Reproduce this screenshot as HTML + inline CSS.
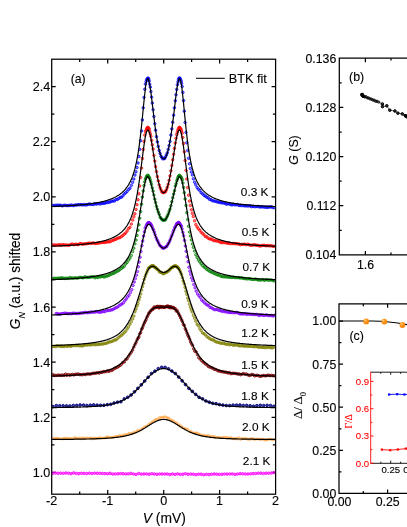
<!DOCTYPE html>
<html><head><meta charset="utf-8"><title>chart</title>
<style>html,body{margin:0;padding:0;background:#fff;overflow:hidden}text{stroke:#000;stroke-width:0.12px}.r text,text.r{stroke:#f00;stroke-width:0.1px}body{width:407px;height:527px;font-family:"Liberation Sans", sans-serif}</style></head>
<body>
<svg width="407" height="527" viewBox="0 0 407 527" font-family='"Liberation Sans", sans-serif' style="display:block;will-change:transform">
<rect width="407" height="527" fill="#fff"/>
<defs>
<marker id="m0" markerWidth="6" markerHeight="6" refX="3" refY="3" markerUnits="userSpaceOnUse"><circle cx="3" cy="3" r="1.25" fill="#0000ff" fill-opacity="0.45" stroke="#0000ff" stroke-width="0.75"/></marker>
<marker id="m1" markerWidth="6" markerHeight="6" refX="3" refY="3" markerUnits="userSpaceOnUse"><circle cx="3" cy="3" r="1.25" fill="#ff0000" fill-opacity="0.45" stroke="#ff0000" stroke-width="0.75"/></marker>
<marker id="m2" markerWidth="6" markerHeight="6" refX="3" refY="3" markerUnits="userSpaceOnUse"><circle cx="3" cy="3" r="1.25" fill="#008000" fill-opacity="0.45" stroke="#008000" stroke-width="0.75"/></marker>
<marker id="m3" markerWidth="6" markerHeight="6" refX="3" refY="3" markerUnits="userSpaceOnUse"><circle cx="3" cy="3" r="1.25" fill="#8000ff" fill-opacity="0.45" stroke="#8000ff" stroke-width="0.75"/></marker>
<marker id="m4" markerWidth="6" markerHeight="6" refX="3" refY="3" markerUnits="userSpaceOnUse"><circle cx="3" cy="3" r="1.25" fill="#808000" fill-opacity="0.45" stroke="#808000" stroke-width="0.75"/></marker>
<marker id="m5" markerWidth="6" markerHeight="6" refX="3" refY="3" markerUnits="userSpaceOnUse"><circle cx="3" cy="3" r="1.25" fill="#800000" fill-opacity="0.45" stroke="#800000" stroke-width="0.75"/></marker>
<marker id="m6" markerWidth="6" markerHeight="6" refX="3" refY="3" markerUnits="userSpaceOnUse"><circle cx="3" cy="3" r="1.35" fill="#000080" fill-opacity="0.75" stroke="#000080" stroke-width="0.9"/></marker>
<marker id="m7" markerWidth="6" markerHeight="6" refX="3" refY="3" markerUnits="userSpaceOnUse"><circle cx="3" cy="3" r="0.9" fill="#ff8a10" fill-opacity="0" stroke="#ff8a10" stroke-width="0.4"/></marker>
<marker id="m8" markerWidth="6" markerHeight="6" refX="3" refY="3" markerUnits="userSpaceOnUse"><circle cx="3" cy="3" r="1.25" fill="#ff00ff" fill-opacity="0.55" stroke="#ff00ff" stroke-width="0.9"/></marker>
<marker id="mb" markerWidth="6" markerHeight="6" refX="3" refY="3" markerUnits="userSpaceOnUse"><circle cx="3" cy="3" r="1.2" fill="#000" fill-opacity="0.25" stroke="#000" stroke-width="0.75"/></marker>
<clipPath id="ca"><rect x="51.7" y="59.2" width="224.5" height="435.0"/></clipPath>
<radialGradient id="og" cx="0.36" cy="0.32" r="0.75"><stop offset="0" stop-color="#ffd9a0"/><stop offset="0.3" stop-color="#ff9a1f"/><stop offset="1" stop-color="#f07c00"/></radialGradient>
</defs>
<path d="M51.7,472.4h4.0 M275.6,472.4h-4.0 M51.7,444.8h2.7 M275.6,444.8h-2.7 M51.7,417.3h4.0 M275.6,417.3h-4.0 M51.7,389.7h2.7 M275.6,389.7h-2.7 M51.7,362.2h4.0 M275.6,362.2h-4.0 M51.7,334.6h2.7 M275.6,334.6h-2.7 M51.7,307.0h4.0 M275.6,307.0h-4.0 M51.7,279.5h2.7 M275.6,279.5h-2.7 M51.7,251.9h4.0 M275.6,251.9h-4.0 M51.7,224.4h2.7 M275.6,224.4h-2.7 M51.7,196.8h4.0 M275.6,196.8h-4.0 M51.7,169.2h2.7 M275.6,169.2h-2.7 M51.7,141.7h4.0 M275.6,141.7h-4.0 M51.7,114.1h2.7 M275.6,114.1h-2.7 M51.7,86.6h4.0 M275.6,86.6h-4.0 M79.7,494.2v-2.7 M79.7,59.2v2.7 M107.7,494.2v-4.2 M107.7,59.2v4.2 M135.7,494.2v-2.7 M135.7,59.2v2.7 M163.7,494.2v-4.2 M163.7,59.2v4.2 M191.6,494.2v-2.7 M191.6,59.2v2.7 M219.6,494.2v-4.2 M219.6,59.2v4.2 M247.6,494.2v-2.7 M247.6,59.2v2.7" stroke="#000" stroke-width="1.25" fill="none"/>
<g clip-path="url(#ca)">
<polyline points="52.9,205.4 54.3,205.5 55.7,205.4 57.1,205.2 58.5,205.3 59.9,205.2 61.3,205.5 62.7,205.8 64.1,205.3 65.5,205.3 66.9,205.6 68.3,205.5 69.7,205.4 71.1,205.1 72.5,205.4 73.9,205.5 75.3,204.9 76.7,205.1 78.1,204.7 79.5,204.8 80.9,204.6 82.3,205 83.7,204.6 85.1,205 86.5,204.8 87.9,204.6 89.3,203.9 90.7,204.4 92.1,204.4 93.5,204.4 94.9,203.8 96.3,204 97.7,203.7 99.1,203.6 100.5,204 101.9,203.3 103.3,203.3 104.7,203.3 106.1,202.6 107.5,202.5 108.9,202.2 110.3,201.9 111.7,201.1 113.1,201.1 114.5,200.9 115.9,199.5 117.3,199.5 118.7,198.5 120.1,197.5 121.5,197.2 122.9,195.8 124.3,193.9 125.7,192.8 127.1,191.4 128.5,189.6 129.9,188.3 131.3,185.4 132.6,182.3 133.8,179 134.9,175.1 136,171.8 137,167.6 138,163 138.9,156.5 139.7,149.3 140.6,140.7 141.5,130.9 142.4,119.9 143.2,107.8 144,97.4 144.8,89.2 145.4,84.1 146.1,81.5 146.6,79.7 147.2,78.9 147.7,78.3 148.2,78.2 148.7,79.2 149.2,81.1 149.7,84.2 150.3,87.1 150.9,91.6 151.6,97.1 152.3,103.1 153.1,109.7 153.9,116.5 154.8,123.7 155.6,130.2 156.5,136.7 157.4,141.9 158.3,146.4 159.2,150.5 160.1,153.4 161,156.2 161.9,157.6 162.8,158.8 163.7,158.5 164.6,158.6 165.5,156.9 166.4,154.9 167.3,152.8 168.2,149.4 169.1,145.6 170,141.4 170.9,135 171.8,128.9 172.7,122.3 173.6,115.2 174.4,107.8 175.3,100.8 176,94.8 176.7,89.4 177.4,84.7 178,81.8 178.5,79.7 179,78.2 179.5,78.2 180,78.2 180.5,79.6 181.1,81 181.6,83.4 182.2,86.5 182.9,92.4 183.6,100.6 184.3,111.2 185.1,122.5 186,132.4 186.8,142.8 187.7,150.5 188.6,158.3 189.5,163.8 190.4,168.5 191.4,172 192.4,174.9 193.4,178.8 194.6,182.2 195.8,184.8 197.1,187.5 198.4,189.2 199.8,190.6 201.2,192.7 202.6,193.8 204,195.2 205.4,196.2 206.8,197.2 208.2,197.9 209.6,199.4 211,199.7 212.4,200.7 213.8,200.9 215.2,201.2 216.6,201.7 218,202 219.4,202.4 220.8,202.6 222.2,202.9 223.6,202.9 225,203.3 226.4,204.2 227.8,203.8 229.2,203.9 230.6,204.5 232,204.9 233.4,204.3 234.8,204.8 236.2,204.8 237.6,204.6 239,205.5 240.4,205.4 241.8,205.6 243.2,205.5 244.6,205.9 246,205.8 247.4,206 248.8,205.8 250.2,205.9 251.6,206.7 253,206.3 254.4,206.6 255.8,206.6 257.2,206.5 258.6,206.6 260,207 261.4,206.8 262.8,206.9 264.2,207 265.6,207.3 267,207.3 268.4,207.2 269.8,207 271.2,206.8 272.6,207.5 274,207.6" fill="none" stroke="none" marker-start="url(#m0)" marker-mid="url(#m0)" marker-end="url(#m0)"/>
<polyline points="52.9,244.9 54.3,245.1 55.7,245.1 57.1,245.1 58.5,245.1 59.9,244.7 61.3,245.3 62.7,244.5 64.1,245 65.5,244.9 66.9,245 68.3,245.2 69.7,245.1 71.1,244.3 72.5,244.1 73.9,244.7 75.3,244.2 76.7,244.4 78.1,244.6 79.5,243.8 80.9,243.6 82.3,244.2 83.7,244 85.1,243.8 86.5,243.8 87.9,243.4 89.3,243.1 90.7,243.4 92.1,243.2 93.5,242.9 94.9,243.5 96.3,243.3 97.7,243.3 99.1,242.8 100.5,242.8 101.9,242.5 103.3,242.4 104.7,242.5 106.1,242 107.5,242 108.9,241.7 110.3,241.8 111.7,240.4 113.1,240.5 114.5,239.7 115.9,239.2 117.3,238.3 118.7,237.9 120.1,237.5 121.5,236.4 122.9,235.4 124.3,234.1 125.7,233 127.1,230.9 128.5,228.6 129.9,227.4 131.3,224 132.6,220.1 133.8,216.8 134.9,213.8 136,209.4 137,204.7 138,199.8 138.9,193.8 139.7,186 140.6,177.4 141.5,168.1 142.4,158.5 143.2,149.5 144,141.4 144.8,135.1 145.5,131.7 146.1,130.2 146.7,128.5 147.2,128.3 147.7,127.3 148.2,127.7 148.7,128.3 149.2,129 149.7,131.5 150.3,133.8 150.9,136.3 151.6,140.4 152.3,144.8 153.1,149 153.9,155.4 154.8,161 155.6,166.6 156.5,171.6 157.4,176.6 158.3,180.9 159.2,184.9 160.1,187.7 161,189.9 161.9,192 162.8,192.3 163.7,192.7 164.6,191.9 165.5,191.7 166.4,189.8 167.3,187.3 168.2,184.2 169.1,180.3 170,175.9 170.9,170.8 171.8,165.5 172.7,159.8 173.6,154.3 174.4,148.4 175.2,143 176,138.3 176.7,134.5 177.3,132.3 177.9,130 178.5,128.5 179,127.7 179.5,127.3 180,127.8 180.5,128.7 181,129.4 181.6,131 182.2,133.2 182.8,137.5 183.5,143.5 184.3,151.8 185.1,160.6 186,170.4 186.8,178.9 187.7,187.6 188.6,195.2 189.5,201.1 190.4,205.5 191.4,209.8 192.4,213.4 193.4,216.5 194.6,220.7 195.8,224.6 197.1,226.9 198.4,228.8 199.8,230.2 201.2,232.3 202.6,233.4 204,234.8 205.4,236.5 206.8,236.8 208.2,238.2 209.6,238.9 211,239.1 212.4,239.7 213.8,240.7 215.2,240.6 216.6,240.9 218,241.1 219.4,241.8 220.8,242.5 222.2,242.7 223.6,242.4 225,242.6 226.4,242.9 227.8,243.3 229.2,243.3 230.6,243.5 232,243.6 233.4,243.5 234.8,243.7 236.2,243.8 237.6,243.8 239,244.1 240.4,244.7 241.8,244.4 243.2,244.4 244.6,244.1 246,244.8 247.4,244.2 248.8,244.5 250.2,245.2 251.6,245.2 253,245.1 254.4,244.7 255.8,245.2 257.2,245.2 258.6,245.6 260,246.1 261.4,245.6 262.8,245.4 264.2,245.3 265.6,245.7 267,245.7 268.4,245.5 269.8,245.9 271.2,245.6 272.6,246.2 274,246.3" fill="none" stroke="none" marker-start="url(#m1)" marker-mid="url(#m1)" marker-end="url(#m1)"/>
<polyline points="52.9,278.7 54.3,278.2 55.7,278.5 57.1,278.3 58.5,278.2 59.9,278.2 61.3,277.9 62.7,277.9 64.1,278.5 65.5,278.2 66.9,278.3 68.3,278.4 69.7,277.6 71.1,277.9 72.5,278.1 73.9,278.1 75.3,277.8 76.7,278.2 78.1,277.9 79.5,277.4 80.9,277.4 82.3,277.8 83.7,277.6 85.1,276.8 86.5,277.6 87.9,277.3 89.3,277.4 90.7,276.9 92.1,276.9 93.5,276.7 94.9,277.8 96.3,277 97.7,277.5 99.1,276.8 100.5,277 101.9,276.4 103.3,276.7 104.7,276.9 106.1,275.9 107.5,276.1 108.9,275.4 110.3,274.5 111.7,274.1 113.1,273.4 114.5,272.9 115.9,272 117.3,271.2 118.7,270.6 120.1,269.4 121.5,268.3 122.9,267.4 124.3,266.3 125.7,263.9 127.1,262.4 128.5,260.2 129.9,258.1 131.3,255.5 132.6,251.6 133.8,248.2 134.9,243.8 136,240 137,235.4 138,230.2 138.9,224.8 139.7,218.2 140.6,211.5 141.5,204.2 142.4,197 143.2,190.9 144,185.6 144.7,181.8 145.4,179 146,177.7 146.6,176.2 147.1,176.2 147.6,175.5 148.1,175.4 148.6,176.3 149.1,177.4 149.6,177.9 150.2,179.7 150.9,181.9 151.5,184.4 152.3,187.9 153.1,191.1 153.9,194.9 154.8,199.1 155.6,202.5 156.5,206.3 157.4,209.2 158.3,212 159.2,214.2 160.1,217.3 161,218.2 161.9,219.5 162.8,220.1 163.7,220.3 164.6,220 165.5,219.8 166.4,217.8 167.3,216 168.2,214 169.1,211.4 170,209.1 170.9,205.8 171.8,201.7 172.7,197.7 173.6,194.1 174.5,190.7 175.3,186 176.1,183.7 176.8,180.7 177.4,179.2 178,177.2 178.6,176.4 179.1,175.5 179.6,175.5 180.1,176.3 180.6,176.7 181.1,177.2 181.7,178.3 182.3,179.8 182.9,183 183.6,187.4 184.3,192.7 185.1,199 186,205.5 186.8,212.7 187.7,219.5 188.6,226.2 189.5,232 190.4,236 191.4,239.9 192.4,244 193.4,247.4 194.6,251.1 195.8,254.7 197.1,257.4 198.4,260.1 199.8,261.9 201.2,263.9 202.6,265.6 204,266.9 205.4,268.1 206.8,269.4 208.2,270.2 209.6,271.3 211,272 212.4,272.3 213.8,273.4 215.2,273.7 216.6,274.5 218,275.1 219.4,275.1 220.8,276.2 222.2,276.6 223.6,276.7 225,276.8 226.4,277 227.8,276.9 229.2,277.2 230.6,277.2 232,277.5 233.4,277.2 234.8,277.6 236.2,277.6 237.6,277.6 239,277.7 240.4,278.1 241.8,277.7 243.2,278.4 244.6,278.5 246,278.7 247.4,278.9 248.8,278.7 250.2,278.9 251.6,279.3 253,279.4 254.4,279.4 255.8,279 257.2,279.7 258.6,280 260,280 261.4,279.9 262.8,279.5 264.2,280.3 265.6,280 267,279.5 268.4,280.3 269.8,279.9 271.2,280 272.6,280.3 274,280.9" fill="none" stroke="none" marker-start="url(#m2)" marker-mid="url(#m2)" marker-end="url(#m2)"/>
<polyline points="56.2,313.5 57.6,313.7 59,314.1 60.4,314 61.8,313.6 63.2,313.5 64.6,313.2 66,313.3 67.4,313.6 68.8,313.6 70.2,313.5 71.6,313.7 73,313.2 74.4,313.3 75.8,313.5 77.2,313.4 78.6,313.5 80,313.2 81.4,312.9 82.8,313 84.2,312.6 85.6,312.3 87,312.8 88.4,312.5 89.8,312.5 91.2,311.9 92.6,312.2 94,312.1 95.4,312 96.8,311.6 98.2,312 99.6,312.3 101,312 102.4,311.6 103.8,311.6 105.2,311.6 106.6,310.2 108,310.6 109.4,310.4 110.8,310 112.2,309.8 113.6,309.1 115,308.2 116.4,307.5 117.8,306.9 119.2,305.6 120.6,304.7 122,303.9 123.4,302.8 124.8,300.8 126.2,299 127.6,297 129,295.2 130.4,292.5 131.8,289.7 133,285.5 134.2,282 135.3,278.6 136.4,275.2 137.4,271.5 138.3,266.7 139.2,262.1 140.1,257.2 141,251.5 141.9,245.7 142.7,241.1 143.6,236 144.4,231.8 145.2,228.2 146,226.3 146.6,224.7 147.2,224.2 147.8,223 148.3,222.7 148.8,222.9 149.3,222.7 149.8,223.4 150.3,223.8 150.9,224.2 151.5,225.4 152.1,226.6 152.8,228.5 153.5,229.9 154.3,232 155.1,234.7 156,237.4 156.9,239.6 157.8,241.1 158.7,243.1 159.6,245.1 160.5,246 161.4,246.8 162.3,247.8 163.2,248.3 164.1,247.9 165,247.4 165.9,246.8 166.8,246.4 167.7,244.6 168.6,243.2 169.5,241.4 170.3,239.4 171.2,236.8 172.1,234.7 173,232 173.8,229.9 174.6,227.8 175.3,226.7 176,225.1 176.6,223.9 177.2,223.4 177.7,223 178.2,223.1 178.7,222.4 179.2,222.8 179.7,223.4 180.3,224.8 180.8,225.3 181.5,226.2 182.1,228.8 182.9,232.3 183.7,235.7 184.5,240.4 185.4,246 186.2,251.3 187.1,256.8 188,261.7 188.9,267.2 189.8,271.2 190.7,274.4 191.7,277.9 192.7,280.5 193.8,284.5 195,287.8 196.2,291.1 197.5,293.9 198.9,295.7 200.3,297.5 201.7,300.1 203.1,301.3 204.5,302.8 205.9,304 207.3,305.1 208.7,305.5 210.1,307.4 211.5,307.8 212.9,308.7 214.3,309.6 215.7,309.6 217.1,309.5 218.5,310.2 219.9,310.5 221.3,311 222.7,311.5 224.1,311.1 225.5,312 226.9,311.7 228.3,312.4 229.7,312.4 231.1,312.5 232.5,312.6 233.9,312.6 235.3,312.7 236.7,312.4 238.1,313 239.5,313.7 240.9,313.9 242.3,313.9 243.7,313.9 245.1,313.6 246.5,314.4 247.9,314.1 249.3,314.2 250.7,314.2 252.1,314.4 253.5,314.4 254.9,314.6 256.3,314.4 257.7,314.7 259.1,315.5 260.5,314.9 261.9,315 263.3,315.3 264.7,315.4 266.1,314.9 267.5,315.2 268.9,315.6 270.3,315.5 271.7,315.5 273.1,316 274.5,315.4" fill="none" stroke="none" marker-start="url(#m3)" marker-mid="url(#m3)" marker-end="url(#m3)"/>
<polyline points="52.9,346.4 54.3,346.2 55.7,346.7 57.1,345.8 58.5,346.1 59.9,346.1 61.3,346.4 62.7,346.4 64.1,346.6 65.5,345.7 66.9,346.4 68.3,346 69.7,345.9 71.1,346.2 72.5,345.7 73.9,345.4 75.3,345.8 76.7,345.4 78.1,345.6 79.5,345.8 80.9,345.7 82.3,346 83.7,345.4 85.1,344.9 86.5,345 87.9,344.9 89.3,344.7 90.7,345 92.1,344.6 93.5,344.2 94.9,344.8 96.3,344.5 97.7,344.5 99.1,344.3 100.5,344.2 101.9,343.9 103.3,344 104.7,343.5 106.1,343.2 107.5,342.9 108.9,342 110.3,341.9 111.7,341.4 113.1,340.9 114.5,339.9 115.9,340 117.3,338.7 118.7,337.4 120.1,336.2 121.5,335.3 122.9,334 124.3,332.6 125.7,331.3 127.1,328.9 128.5,327 129.9,324.3 131.3,321.7 132.6,318.9 133.8,316 134.9,311.8 136,309.1 137,306 138,303.6 138.9,300.1 139.8,297.3 140.7,293.9 141.6,290.1 142.5,286.6 143.4,283.3 144.2,279.5 145.1,276.7 146,274.2 146.9,272 147.7,269.9 148.5,268 149.3,267.5 150,267.2 150.6,266.7 151.2,266.2 151.7,265.8 152.2,266.2 152.7,265.9 153.2,265.8 153.7,266.1 154.2,267 154.8,267.1 155.4,267.8 156.1,267.9 156.8,269 157.6,269.3 158.4,270.2 159.3,271.8 160.1,272 161,272.3 161.9,272.9 162.8,273.4 163.7,273.8 164.6,273.1 165.5,272.4 166.4,272.3 167.3,271.7 168.2,270.9 169.1,270.5 169.9,269.3 170.7,268.7 171.5,267.5 172.2,267.4 172.8,267.3 173.4,266.6 174,266.3 174.5,266.1 175,266.5 175.5,265.8 176,266.2 176.5,266.6 177.1,267 177.7,267.1 178.3,268 179,268.9 179.8,270.5 180.6,272.4 181.5,274.5 182.3,277.6 183.2,281 184.1,283.8 185,287.5 185.9,291.2 186.8,294.3 187.7,298.1 188.6,300.7 189.5,304.2 190.4,307.3 191.4,310 192.4,312.1 193.4,315.4 194.6,318.3 195.8,321.2 197.1,324.3 198.4,325.9 199.8,328.8 201.2,330.7 202.6,333 204,333.7 205.4,334.9 206.8,336.4 208.2,337.6 209.6,338.4 211,339.4 212.4,339.9 213.8,340.1 215.2,341.5 216.6,342 218,342.3 219.4,342.7 220.8,343.3 222.2,343.2 223.6,343.4 225,343.8 226.4,344.4 227.8,343.9 229.2,344.8 230.6,344.5 232,344.5 233.4,345.3 234.8,345 236.2,344.8 237.6,345.2 239,345.7 240.4,345.9 241.8,345.6 243.2,346 244.6,346.2 246,345.9 247.4,346.3 248.8,346.3 250.2,346.2 251.6,346.3 253,346.6 254.4,346.6 255.8,346.6 257.2,346.7 258.6,347.2 260,347 261.4,347.2 262.8,347.4 264.2,347.3 265.6,347.8 267,347 268.4,347.5 269.8,347.2 271.2,347.8 272.6,347.8 274,346.9" fill="none" stroke="none" marker-start="url(#m4)" marker-mid="url(#m4)" marker-end="url(#m4)"/>
<polyline points="52.9,374.8 54.3,375.4 55.7,375.4 57.1,375.4 58.5,375.1 59.9,375.3 61.3,375.3 62.7,375 64.1,375.4 65.5,374.1 66.9,375.2 68.3,374.5 69.7,375.3 71.1,374.8 72.5,374.4 73.9,374.9 75.3,374.3 76.7,374.3 78.1,374 79.5,374.5 80.9,374.6 82.3,374.8 83.7,374.2 85.1,374.6 86.5,374.1 87.9,373.9 89.3,374.1 90.7,374.1 92.1,373.5 93.5,373.3 94.9,373.2 96.3,373.1 97.7,372.6 99.1,373.1 100.5,372.3 101.9,372.4 103.3,371.6 104.7,371.8 106.1,371.5 107.5,370.8 108.9,371.4 110.3,370.4 111.7,370.4 113.1,369.6 114.5,368.4 115.9,367.8 117.3,367.3 118.7,366.3 120.1,365.4 121.5,364.2 122.9,362.4 124.3,361.9 125.7,359.6 127.1,358.8 128.5,356.4 129.9,354.2 131.3,352.2 132.6,350.1 133.8,347.1 134.9,344.6 136,342.6 137,340 138,338.2 138.9,337.1 139.8,333.9 140.7,332.4 141.6,329.3 142.5,327.8 143.4,325.3 144.3,323.1 145.2,321.3 146.1,319.7 147,317.2 147.9,315.4 148.8,313.3 149.6,312.5 150.5,310.9 151.4,310.3 152.3,309.1 153.2,309.1 154,307.1 154.8,307.4 155.5,307.6 156.1,307 156.8,306.7 157.3,306.8 157.8,306.3 158.3,306.9 158.8,307.9 159.3,307.4 159.8,306.5 160.4,306.6 161,306.8 161.6,307.4 162.3,306.7 163.1,306.8 163.9,307.4 164.7,307.4 165.4,306.8 166.2,306.5 166.8,306.3 167.4,306.6 168,306 168.5,307.2 169,306.6 169.5,307.1 170,307.7 170.5,307.5 171,306.6 171.6,307.6 172.3,307.9 173,307.4 173.7,307.7 174.5,308.6 175.4,308.8 176.2,311 177.1,310.5 178,312.4 178.9,314.2 179.8,315.9 180.7,317.9 181.6,319.9 182.5,321.8 183.4,324.5 184.3,325.4 185.2,328.6 186.1,330.5 187,333.1 187.9,335.3 188.8,337 189.7,339.2 190.6,341.9 191.6,343.8 192.6,345.6 193.7,348.9 194.8,351.2 196.1,351.8 197.4,354.6 198.7,357.6 200.1,358.9 201.5,360.5 202.9,361.8 204.3,362.9 205.7,364.1 207.1,365.1 208.5,366.6 209.9,367 211.3,367.7 212.7,368.1 214.1,369.2 215.5,369.4 216.9,370.1 218.3,371 219.7,371.1 221.1,371.5 222.5,371.8 223.9,372 225.3,372.2 226.7,372.4 228.1,373.1 229.5,372.6 230.9,373.7 232.3,373.4 233.7,373.3 235.1,373.5 236.5,373.6 237.9,374.1 239.3,373.9 240.7,374.7 242.1,374.1 243.5,373.6 244.9,374.3 246.3,373.9 247.7,374.8 249.1,375.3 250.5,375.2 251.9,374.5 253.3,374.8 254.7,375.9 256.1,375.4 257.5,375.3 258.9,375.8 260.3,376.4 261.7,376 263.1,375.5 264.5,375.7 265.9,375.8 267.3,375.3 268.7,375.2 270.1,375.7 271.5,375.3 272.9,375.7 274.3,375.8" fill="none" stroke="none" marker-start="url(#m5)" marker-mid="url(#m5)" marker-end="url(#m5)"/>
<polyline points="52.9,406.6 56.3,405.6 59.7,405.8 63.1,405.8 66.5,405.9 69.9,406 73.3,405.5 76.7,405.4 80.1,405 83.5,405.1 86.9,405.5 90.3,405.2 93.7,404.9 97.1,405.2 100.5,405.3 103.9,405.3 107.3,404.7 110.7,404.3 114.1,403 117.5,402.2 120.9,401.7 124.3,398.9 127.7,397.3 131.1,395 134.5,391.8 137.9,388.3 141.3,384.8 144.7,381 148.1,377.3 151.5,373.5 154.9,371.2 158.3,368.7 161.7,367.3 165.1,367.4 168.5,368.8 171.9,371.1 175.3,373.5 178.7,377.1 182.1,380.8 185.5,384.6 188.9,388.4 192.3,391.4 195.7,394.4 199.1,397.3 202.5,398.8 205.9,401 209.3,402.2 212.7,403.3 216.1,403.7 219.5,404.6 222.9,405.1 226.3,405.5 229.7,405.6 233.1,405.2 236.5,405.1 239.9,405 243.3,405.5 246.7,405.4 250.1,405.8 253.5,406.2 256.9,405.7 260.3,405.3 263.7,405.6 267.1,405.4 270.5,405.5 273.9,406.3" fill="none" stroke="none" marker-start="url(#m6)" marker-mid="url(#m6)" marker-end="url(#m6)"/>
<polyline points="52.9,438.5 53.7,437.8 54.5,438.7 55.3,439 56.1,438.3 56.9,438.2 57.7,438.3 58.5,438.6 59.3,438.7 60.1,438.9 60.9,438.9 61.7,438.9 62.5,439 63.3,438.7 64.1,437.8 64.9,438.3 65.7,438.5 66.5,438.2 67.3,438.8 68.1,438.2 68.9,438 69.7,439 70.5,438.6 71.3,438.4 72.1,438.7 72.9,438.8 73.7,438.5 74.5,437.3 75.3,438 76.1,438.1 76.9,437.9 77.7,438.4 78.5,438.8 79.3,438.1 80.1,437.8 80.9,439.1 81.7,438.1 82.5,437.7 83.3,438.3 84.1,438.4 84.9,437.9 85.7,438.5 86.5,438 87.3,437.8 88.1,438.2 88.9,438.4 89.7,437.8 90.5,438.2 91.3,438 92.1,439.2 92.9,437.7 93.7,438.6 94.5,438 95.3,437.9 96.1,438.2 96.9,438.3 97.7,438.4 98.5,438 99.3,437.6 100.1,437.6 100.9,438 101.7,438 102.5,438.3 103.3,437.8 104.1,438 104.9,438.2 105.7,437.6 106.5,436.8 107.3,436.9 108.1,436.7 108.9,437.9 109.7,436.8 110.5,437.6 111.3,437.3 112.1,437.7 112.9,437.3 113.7,436.8 114.5,436.6 115.3,436.6 116.1,436.6 116.9,436.2 117.7,436.3 118.5,436.9 119.3,435.3 120.1,436 120.9,435.4 121.7,435.7 122.5,435.9 123.3,435.3 124.1,435.5 124.9,434.3 125.7,435.3 126.5,434.4 127.3,434.7 128.1,434.3 128.9,433 129.7,433.5 130.5,433.7 131.3,434 132.1,433.2 132.9,432.9 133.7,431.9 134.5,432.8 135.3,432.6 136.1,431.6 136.9,431.1 137.7,430.2 138.5,430.8 139.3,431.2 140.1,430 140.9,429.8 141.7,429.1 142.5,428 143.3,428.5 144.1,426.9 144.9,426.9 145.7,426.6 146.5,426.4 147.3,425.7 148.1,425.1 148.9,424.2 149.7,423.4 150.5,423.5 151.3,422.6 152.1,421.9 152.9,421.4 153.7,421.2 154.5,420.1 155.3,419.8 156.1,419.2 156.9,419.5 157.7,419.1 158.5,419.4 159.3,417.5 160.1,417.5 160.9,417.9 161.7,417.2 162.5,417 163.3,417.8 164.1,416.9 164.9,416.6 165.7,416.7 166.5,417.7 167.3,418 168.1,417.6 168.9,418.2 169.7,419.2 170.5,419.7 171.3,419.7 172.1,420.7 172.9,421.2 173.7,420.7 174.5,421.8 175.3,422.7 176.1,422.8 176.9,422.6 177.7,423.9 178.5,424.9 179.3,425.7 180.1,424.6 180.9,427.2 181.7,426.1 182.5,427.4 183.3,428 184.1,428.4 184.9,428.5 185.7,428.4 186.5,429.6 187.3,429.4 188.1,429.1 188.9,431.7 189.7,431.2 190.5,432 191.3,431.2 192.1,432.5 192.9,432.9 193.7,433.2 194.5,432.8 195.3,432.6 196.1,433.3 196.9,432.7 197.7,433.1 198.5,434.1 199.3,433.9 200.1,434.4 200.9,434.6 201.7,435.7 202.5,435.6 203.3,435.2 204.1,435.9 204.9,435.2 205.7,435.5 206.5,436.2 207.3,435.4 208.1,436 208.9,435.6 209.7,436.4 210.5,437.1 211.3,436.2 212.1,436.7 212.9,436.3 213.7,436.3 214.5,436.4 215.3,437.6 216.1,438 216.9,437.3 217.7,436.9 218.5,437.6 219.3,437.2 220.1,437.7 220.9,437.6 221.7,437.6 222.5,437.8 223.3,437.4 224.1,437.5 224.9,437 225.7,437.6 226.5,437.3 227.3,437.8 228.1,437.6 228.9,438 229.7,438.2 230.5,437.5 231.3,437.8 232.1,437.8 232.9,438.5 233.7,439 234.5,438.7 235.3,438.2 236.1,439 236.9,437.8 237.7,439.1 238.5,438.2 239.3,437.4 240.1,439.7 240.9,439.3 241.7,438.2 242.5,438.8 243.3,438.6 244.1,438.8 244.9,438.2 245.7,438.5 246.5,439 247.3,439 248.1,439.4 248.9,439 249.7,439.9 250.5,438.7 251.3,439.1 252.1,438.2 252.9,438.5 253.7,439.7 254.5,438.7 255.3,439.4 256.1,439.2 256.9,438.8 257.7,439.1 258.5,439 259.3,439.1 260.1,439.6 260.9,439.6 261.7,439.1 262.5,439 263.3,439.5 264.1,439.4 264.9,439.9 265.7,440.6 266.5,439.9 267.3,439.5 268.1,439.5 268.9,439.2 269.7,439.2 270.5,439.2 271.3,439.5 272.1,439.5 272.9,440 273.7,439.5 274.5,439.6 275.3,439.2" fill="none" stroke="none" marker-start="url(#m7)" marker-mid="url(#m7)" marker-end="url(#m7)"/>
<polyline points="52.9,473.2 55.5,473 58.1,473.3 60.7,473.2 63.3,473.3 65.9,473 68.5,473.2 71.1,473.7 73.7,472.9 76.3,473.4 78.9,473.6 81.5,473.3 84.1,473.4 86.7,473.6 89.3,473.2 91.9,473.5 94.5,473.2 97.1,473.3 99.7,473.3 102.3,473.5 104.9,473.6 107.5,473.7 110.1,473.3 112.7,474 115.3,473.9 117.9,473.8 120.5,473.6 123.1,473.7 125.7,473.9 128.3,473.8 130.9,473.4 133.5,474 136.1,474.4 138.7,473.5 141.3,474.1 143.9,474 146.5,473.9 149.1,474.2 151.7,473.7 154.3,474 156.9,474.3 159.5,474 162.1,474 164.7,474.1 167.3,474 169.9,474.5 172.5,474 175.1,474.4 177.7,473.9 180.3,474.4 182.9,474.2 185.5,473.7 188.1,474.3 190.7,474.1 193.3,474.2 195.9,474.7 198.5,474.2 201.1,474.2 203.7,474.7 206.3,474.3 208.9,474.6 211.5,474.3 214.1,474 216.7,474.2 219.3,474.4 221.9,474.3 224.5,474.1 227.1,474.1 229.7,474 232.3,473.9 234.9,474.4 237.5,474 240.1,473.7 242.7,473.8 245.3,474 247.9,474 250.5,473.8 253.1,473.6 255.7,473.6 258.3,473.2 260.9,473.2 263.5,473.5 266.1,473.2 268.7,473.2 271.3,473.1 273.9,472.7" fill="none" stroke="none" marker-start="url(#m8)" marker-mid="url(#m8)" marker-end="url(#m8)"/>
<polyline points="51.7,206.5 52.2,206.5 52.7,206.5 53.2,206.5 53.7,206.5 54.2,206.4 54.7,206.4 55.2,206.4 55.7,206.4 56.2,206.4 56.7,206.3 57.2,206.3 57.7,206.3 58.2,206.3 58.7,206.3 59.2,206.2 59.7,206.2 60.2,206.2 60.7,206.2 61.2,206.1 61.7,206.1 62.2,206.1 62.7,206.1 63.2,206 63.7,206 64.2,206 64.7,206 65.2,205.9 65.7,205.9 66.2,205.9 66.7,205.9 67.2,205.8 67.7,205.8 68.2,205.8 68.7,205.7 69.2,205.7 69.7,205.7 70.2,205.6 70.6,205.6 71.1,205.6 71.6,205.6 72.1,205.5 72.6,205.5 73.1,205.5 73.6,205.4 74.1,205.4 74.6,205.3 75.1,205.3 75.6,205.3 76.1,205.2 76.6,205.2 77.1,205.2 77.6,205.1 78.1,205.1 78.6,205 79.1,205 79.6,204.9 80.1,204.9 80.6,204.9 81.1,204.8 81.6,204.8 82.1,204.7 82.6,204.7 83.1,204.6 83.6,204.6 84.1,204.5 84.6,204.5 85.1,204.4 85.6,204.4 86.1,204.3 86.6,204.3 87.1,204.2 87.6,204.1 88.1,204.1 88.6,204 89.1,204 89.6,203.9 90.1,203.8 90.6,203.8 91.1,203.7 91.6,203.6 92.1,203.5 92.6,203.5 93.1,203.4 93.6,203.3 94.1,203.2 94.6,203.2 95.1,203.1 95.6,203 96.1,202.9 96.6,202.8 97.1,202.7 97.6,202.6 98.1,202.6 98.6,202.5 99.1,202.4 99.6,202.3 100.1,202.2 100.6,202 101.1,201.9 101.6,201.8 102.1,201.7 102.6,201.6 103.1,201.5 103.6,201.4 104.1,201.2 104.6,201.1 105.1,201 105.6,200.8 106.1,200.7 106.6,200.5 107.1,200.4 107.6,200.2 108,200.1 108.5,199.9 109,199.7 109.5,199.6 110,199.4 110.5,199.2 111,199 111.5,198.8 112,198.6 112.5,198.4 113,198.2 113.5,197.9 114,197.7 114.5,197.5 115,197.2 115.5,197 116,196.7 116.5,196.4 117,196.1 117.5,195.8 118,195.5 118.5,195.2 119,194.9 119.5,194.5 120,194.2 120.5,193.8 121,193.4 121.5,193 122,192.6 122.5,192.1 123,191.6 123.5,191.2 124,190.7 124.5,190.1 125,189.6 125.5,189 126,188.4 126.5,187.7 127,187 127.5,186.3 128,185.6 128.5,184.8 129,183.9 129.5,183 130,182.1 130.5,181.1 131,180 131.5,178.9 132,177.7 132.5,176.4 133,175 133.5,173.5 134,171.9 134.5,170.2 135,168.4 135.5,166.4 136,164.2 136.5,161.9 137,159.4 137.5,156.7 138,153.8 138.5,150.7 139,147.3 139.5,143.6 140,139.7 140.5,135.5 141,131 141.5,126.3 142,121.4 142.5,116.3 143,111.2 143.5,106 144,101 144.5,96.2 145,91.7 145.4,87.7 145.9,84.4 146.4,81.7 146.9,79.9 147.4,78.9 147.9,78.7 148.4,79.4 148.9,80.8 149.4,82.9 149.9,85.6 150.4,88.8 150.9,92.4 151.4,96.3 151.9,100.4 152.4,104.6 152.9,108.8 153.4,113.1 153.9,117.2 154.4,121.2 154.9,125.1 155.4,128.8 155.9,132.4 156.4,135.7 156.9,138.8 157.4,141.7 157.9,144.4 158.4,146.8 158.9,149 159.4,151 159.9,152.8 160.4,154.3 160.9,155.6 161.4,156.7 161.9,157.6 162.4,158.2 162.9,158.7 163.4,158.9 163.9,158.9 164.4,158.7 164.9,158.2 165.4,157.6 165.9,156.7 166.4,155.6 166.9,154.3 167.4,152.8 167.9,151 168.4,149 168.9,146.8 169.4,144.4 169.9,141.7 170.4,138.8 170.9,135.7 171.4,132.4 171.9,128.8 172.4,125.1 172.9,121.2 173.4,117.2 173.9,113.1 174.4,108.8 174.9,104.6 175.4,100.4 175.9,96.3 176.4,92.4 176.9,88.9 177.4,85.6 177.9,82.9 178.4,80.8 178.9,79.4 179.4,78.7 179.9,78.9 180.4,79.9 180.9,81.8 181.4,84.4 181.9,87.8 182.3,91.7 182.8,96.2 183.3,101 183.8,106 184.3,111.2 184.8,116.3 185.3,121.4 185.8,126.3 186.3,131 186.8,135.5 187.3,139.7 187.8,143.6 188.3,147.2 188.8,150.7 189.3,153.8 189.8,156.7 190.3,159.4 190.8,161.9 191.3,164.2 191.8,166.4 192.3,168.4 192.8,170.2 193.3,171.9 193.8,173.5 194.3,175 194.8,176.4 195.3,177.7 195.8,178.9 196.3,180 196.8,181.1 197.3,182.1 197.8,183 198.3,183.9 198.8,184.8 199.3,185.6 199.8,186.3 200.3,187 200.8,187.7 201.3,188.4 201.8,189 202.3,189.6 202.8,190.1 203.3,190.7 203.8,191.2 204.3,191.6 204.8,192.1 205.3,192.6 205.8,193 206.3,193.4 206.8,193.8 207.3,194.2 207.8,194.5 208.3,194.9 208.8,195.2 209.3,195.5 209.8,195.8 210.3,196.1 210.8,196.4 211.3,196.7 211.8,197 212.3,197.2 212.8,197.5 213.3,197.7 213.8,197.9 214.3,198.2 214.8,198.4 215.3,198.6 215.8,198.8 216.3,199 216.8,199.2 217.3,199.4 217.8,199.6 218.3,199.7 218.8,199.9 219.3,200.1 219.7,200.2 220.2,200.4 220.7,200.5 221.2,200.7 221.7,200.8 222.2,201 222.7,201.1 223.2,201.2 223.7,201.4 224.2,201.5 224.7,201.6 225.2,201.7 225.7,201.8 226.2,201.9 226.7,202 227.2,202.2 227.7,202.3 228.2,202.4 228.7,202.5 229.2,202.6 229.7,202.6 230.2,202.7 230.7,202.8 231.2,202.9 231.7,203 232.2,203.1 232.7,203.2 233.2,203.2 233.7,203.3 234.2,203.4 234.7,203.5 235.2,203.5 235.7,203.6 236.2,203.7 236.7,203.8 237.2,203.8 237.7,203.9 238.2,204 238.7,204 239.2,204.1 239.7,204.1 240.2,204.2 240.7,204.3 241.2,204.3 241.7,204.4 242.2,204.4 242.7,204.5 243.2,204.5 243.7,204.6 244.2,204.6 244.7,204.7 245.2,204.7 245.7,204.8 246.2,204.8 246.7,204.9 247.2,204.9 247.7,204.9 248.2,205 248.7,205 249.2,205.1 249.7,205.1 250.2,205.2 250.7,205.2 251.2,205.2 251.7,205.3 252.2,205.3 252.7,205.3 253.2,205.4 253.7,205.4 254.2,205.5 254.7,205.5 255.2,205.5 255.7,205.6 256.2,205.6 256.7,205.6 257.1,205.6 257.6,205.7 258.1,205.7 258.6,205.7 259.1,205.8 259.6,205.8 260.1,205.8 260.6,205.9 261.1,205.9 261.6,205.9 262.1,205.9 262.6,206 263.1,206 263.6,206 264.1,206 264.6,206.1 265.1,206.1 265.6,206.1 266.1,206.1 266.6,206.2 267.1,206.2 267.6,206.2 268.1,206.2 268.6,206.3 269.1,206.3 269.6,206.3 270.1,206.3 270.6,206.3 271.1,206.4 271.6,206.4 272.1,206.4 272.6,206.4 273.1,206.4 273.6,206.5 274.1,206.5 274.6,206.5 275.1,206.5 275.6,206.5" fill="none" stroke="#000" stroke-width="1.2" stroke-linejoin="round"/>
<polyline points="51.7,246.2 52.2,246.2 52.7,246.2 53.2,246.2 53.7,246.1 54.2,246.1 54.7,246.1 55.2,246.1 55.7,246.1 56.2,246 56.7,246 57.2,246 57.7,246 58.2,246 58.7,245.9 59.2,245.9 59.7,245.9 60.2,245.9 60.7,245.8 61.2,245.8 61.7,245.8 62.2,245.8 62.7,245.7 63.2,245.7 63.7,245.7 64.2,245.7 64.7,245.6 65.2,245.6 65.7,245.6 66.2,245.6 66.7,245.5 67.2,245.5 67.7,245.5 68.2,245.4 68.7,245.4 69.2,245.4 69.7,245.4 70.2,245.3 70.6,245.3 71.1,245.3 71.6,245.2 72.1,245.2 72.6,245.2 73.1,245.1 73.6,245.1 74.1,245.1 74.6,245 75.1,245 75.6,244.9 76.1,244.9 76.6,244.9 77.1,244.8 77.6,244.8 78.1,244.7 78.6,244.7 79.1,244.7 79.6,244.6 80.1,244.6 80.6,244.5 81.1,244.5 81.6,244.4 82.1,244.4 82.6,244.3 83.1,244.3 83.6,244.2 84.1,244.2 84.6,244.1 85.1,244.1 85.6,244 86.1,244 86.6,243.9 87.1,243.8 87.6,243.8 88.1,243.7 88.6,243.7 89.1,243.6 89.6,243.5 90.1,243.5 90.6,243.4 91.1,243.3 91.6,243.2 92.1,243.2 92.6,243.1 93.1,243 93.6,242.9 94.1,242.9 94.6,242.8 95.1,242.7 95.6,242.6 96.1,242.5 96.6,242.4 97.1,242.3 97.6,242.2 98.1,242.2 98.6,242.1 99.1,241.9 99.6,241.8 100.1,241.7 100.6,241.6 101.1,241.5 101.6,241.4 102.1,241.3 102.6,241.2 103.1,241 103.6,240.9 104.1,240.8 104.6,240.6 105.1,240.5 105.6,240.4 106.1,240.2 106.6,240.1 107.1,239.9 107.6,239.7 108,239.6 108.5,239.4 109,239.2 109.5,239 110,238.9 110.5,238.7 111,238.5 111.5,238.3 112,238 112.5,237.8 113,237.6 113.5,237.4 114,237.1 114.5,236.9 115,236.6 115.5,236.3 116,236 116.5,235.7 117,235.4 117.5,235.1 118,234.8 118.5,234.5 119,234.1 119.5,233.7 120,233.3 120.5,232.9 121,232.5 121.5,232.1 122,231.6 122.5,231.1 123,230.6 123.5,230.1 124,229.5 124.5,229 125,228.4 125.5,227.7 126,227 126.5,226.3 127,225.6 127.5,224.8 128,223.9 128.5,223 129,222.1 129.5,221.1 130,220 130.5,218.9 131,217.7 131.5,216.4 132,215 132.5,213.6 133,212 133.5,210.3 134,208.6 134.5,206.7 135,204.6 135.5,202.5 136,200.2 136.5,197.7 137,195.1 137.5,192.3 138,189.3 138.5,186.2 139,182.9 139.5,179.5 140,175.9 140.5,172.1 141,168.3 141.5,164.4 142,160.4 142.5,156.5 143,152.6 143.5,148.9 144,145.3 144.5,141.9 145,138.9 145.4,136.2 145.9,134 146.4,132.2 146.9,131 147.4,130.2 147.9,130 148.4,130.3 148.9,131.1 149.4,132.3 149.9,134 150.4,136.1 150.9,138.4 151.4,141.1 151.9,144 152.4,147 152.9,150.1 153.4,153.3 153.9,156.5 154.4,159.7 154.9,162.9 155.4,166 155.9,168.9 156.4,171.8 156.9,174.5 157.4,177 157.9,179.4 158.4,181.6 158.9,183.6 159.4,185.4 159.9,187 160.4,188.5 160.9,189.7 161.4,190.7 161.9,191.5 162.4,192.2 162.9,192.6 163.4,192.8 163.9,192.8 164.4,192.6 164.9,192.2 165.4,191.5 165.9,190.7 166.4,189.7 166.9,188.5 167.4,187 167.9,185.4 168.4,183.6 168.9,181.6 169.4,179.4 169.9,177 170.4,174.5 170.9,171.8 171.4,168.9 171.9,166 172.4,162.9 172.9,159.7 173.4,156.5 173.9,153.3 174.4,150.1 174.9,147 175.4,144 175.9,141.1 176.4,138.4 176.9,136.1 177.4,134 177.9,132.3 178.4,131.1 178.9,130.3 179.4,130 179.9,130.2 180.4,131 180.9,132.2 181.4,134 181.9,136.3 182.3,138.9 182.8,141.9 183.3,145.3 183.8,148.9 184.3,152.6 184.8,156.5 185.3,160.4 185.8,164.4 186.3,168.3 186.8,172.1 187.3,175.9 187.8,179.5 188.3,182.9 188.8,186.2 189.3,189.3 189.8,192.3 190.3,195.1 190.8,197.7 191.3,200.2 191.8,202.5 192.3,204.6 192.8,206.7 193.3,208.6 193.8,210.3 194.3,212 194.8,213.6 195.3,215 195.8,216.4 196.3,217.7 196.8,218.9 197.3,220 197.8,221.1 198.3,222.1 198.8,223 199.3,223.9 199.8,224.8 200.3,225.6 200.8,226.3 201.3,227 201.8,227.7 202.3,228.4 202.8,229 203.3,229.5 203.8,230.1 204.3,230.6 204.8,231.1 205.3,231.6 205.8,232.1 206.3,232.5 206.8,232.9 207.3,233.3 207.8,233.7 208.3,234.1 208.8,234.5 209.3,234.8 209.8,235.1 210.3,235.4 210.8,235.7 211.3,236 211.8,236.3 212.3,236.6 212.8,236.9 213.3,237.1 213.8,237.4 214.3,237.6 214.8,237.8 215.3,238 215.8,238.3 216.3,238.5 216.8,238.7 217.3,238.9 217.8,239 218.3,239.2 218.8,239.4 219.3,239.6 219.7,239.7 220.2,239.9 220.7,240.1 221.2,240.2 221.7,240.4 222.2,240.5 222.7,240.6 223.2,240.8 223.7,240.9 224.2,241 224.7,241.2 225.2,241.3 225.7,241.4 226.2,241.5 226.7,241.6 227.2,241.7 227.7,241.8 228.2,241.9 228.7,242.1 229.2,242.2 229.7,242.2 230.2,242.3 230.7,242.4 231.2,242.5 231.7,242.6 232.2,242.7 232.7,242.8 233.2,242.9 233.7,242.9 234.2,243 234.7,243.1 235.2,243.2 235.7,243.2 236.2,243.3 236.7,243.4 237.2,243.5 237.7,243.5 238.2,243.6 238.7,243.7 239.2,243.7 239.7,243.8 240.2,243.8 240.7,243.9 241.2,244 241.7,244 242.2,244.1 242.7,244.1 243.2,244.2 243.7,244.2 244.2,244.3 244.7,244.3 245.2,244.4 245.7,244.4 246.2,244.5 246.7,244.5 247.2,244.6 247.7,244.6 248.2,244.7 248.7,244.7 249.2,244.7 249.7,244.8 250.2,244.8 250.7,244.9 251.2,244.9 251.7,244.9 252.2,245 252.7,245 253.2,245.1 253.7,245.1 254.2,245.1 254.7,245.2 255.2,245.2 255.7,245.2 256.2,245.3 256.7,245.3 257.1,245.3 257.6,245.4 258.1,245.4 258.6,245.4 259.1,245.4 259.6,245.5 260.1,245.5 260.6,245.5 261.1,245.6 261.6,245.6 262.1,245.6 262.6,245.6 263.1,245.7 263.6,245.7 264.1,245.7 264.6,245.7 265.1,245.8 265.6,245.8 266.1,245.8 266.6,245.8 267.1,245.9 267.6,245.9 268.1,245.9 268.6,245.9 269.1,246 269.6,246 270.1,246 270.6,246 271.1,246 271.6,246.1 272.1,246.1 272.6,246.1 273.1,246.1 273.6,246.1 274.1,246.2 274.6,246.2 275.1,246.2 275.6,246.2" fill="none" stroke="#000" stroke-width="1.2" stroke-linejoin="round"/>
<polyline points="51.7,279.7 52.2,279.7 52.7,279.7 53.2,279.6 53.7,279.6 54.2,279.6 54.7,279.6 55.2,279.6 55.7,279.5 56.2,279.5 56.7,279.5 57.2,279.5 57.7,279.4 58.2,279.4 58.7,279.4 59.2,279.4 59.7,279.4 60.2,279.3 60.7,279.3 61.2,279.3 61.7,279.3 62.2,279.2 62.7,279.2 63.2,279.2 63.7,279.2 64.2,279.1 64.7,279.1 65.2,279.1 65.7,279.1 66.2,279 66.7,279 67.2,279 67.7,278.9 68.2,278.9 68.7,278.9 69.2,278.9 69.7,278.8 70.2,278.8 70.6,278.8 71.1,278.7 71.6,278.7 72.1,278.7 72.6,278.6 73.1,278.6 73.6,278.6 74.1,278.5 74.6,278.5 75.1,278.4 75.6,278.4 76.1,278.4 76.6,278.3 77.1,278.3 77.6,278.3 78.1,278.2 78.6,278.2 79.1,278.1 79.6,278.1 80.1,278 80.6,278 81.1,277.9 81.6,277.9 82.1,277.8 82.6,277.8 83.1,277.8 83.6,277.7 84.1,277.6 84.6,277.6 85.1,277.5 85.6,277.5 86.1,277.4 86.6,277.4 87.1,277.3 87.6,277.3 88.1,277.2 88.6,277.1 89.1,277.1 89.6,277 90.1,276.9 90.6,276.9 91.1,276.8 91.6,276.7 92.1,276.6 92.6,276.6 93.1,276.5 93.6,276.4 94.1,276.3 94.6,276.3 95.1,276.2 95.6,276.1 96.1,276 96.6,275.9 97.1,275.8 97.6,275.7 98.1,275.6 98.6,275.5 99.1,275.4 99.6,275.3 100.1,275.2 100.6,275.1 101.1,275 101.6,274.9 102.1,274.8 102.6,274.6 103.1,274.5 103.6,274.4 104.1,274.3 104.6,274.1 105.1,274 105.6,273.8 106.1,273.7 106.6,273.5 107.1,273.4 107.6,273.2 108,273.1 108.5,272.9 109,272.7 109.5,272.5 110,272.3 110.5,272.2 111,272 111.5,271.7 112,271.5 112.5,271.3 113,271.1 113.5,270.9 114,270.6 114.5,270.4 115,270.1 115.5,269.8 116,269.5 116.5,269.3 117,268.9 117.5,268.6 118,268.3 118.5,268 119,267.6 119.5,267.2 120,266.9 120.5,266.5 121,266 121.5,265.6 122,265.1 122.5,264.7 123,264.2 123.5,263.7 124,263.1 124.5,262.5 125,261.9 125.5,261.3 126,260.6 126.5,259.9 127,259.2 127.5,258.4 128,257.6 128.5,256.7 129,255.8 129.5,254.8 130,253.7 130.5,252.6 131,251.5 131.5,250.2 132,248.9 132.5,247.5 133,246 133.5,244.4 134,242.7 134.5,240.9 135,239 135.5,236.9 136,234.7 136.5,232.4 137,230 137.5,227.4 138,224.7 138.5,221.9 139,218.9 139.5,215.8 140,212.7 140.5,209.4 141,206.1 141.5,202.8 142,199.5 142.5,196.3 143,193.2 143.5,190.2 144,187.5 144.5,184.9 145,182.7 145.4,180.8 145.9,179.2 146.4,178 146.9,177.2 147.4,176.8 147.9,176.8 148.4,177.1 148.9,177.8 149.4,178.8 149.9,180 150.4,181.5 150.9,183.2 151.4,185.1 151.9,187.1 152.4,189.1 152.9,191.3 153.4,193.5 153.9,195.7 154.4,197.8 154.9,200 155.4,202 155.9,204 156.4,206 156.9,207.8 157.4,209.5 157.9,211.1 158.4,212.6 158.9,214 159.4,215.2 159.9,216.3 160.4,217.3 160.9,218.1 161.4,218.8 161.9,219.4 162.4,219.8 162.9,220.1 163.4,220.3 163.9,220.3 164.4,220.1 164.9,219.8 165.4,219.4 165.9,218.8 166.4,218.1 166.9,217.3 167.4,216.3 167.9,215.2 168.4,214 168.9,212.6 169.4,211.1 169.9,209.5 170.4,207.8 170.9,206 171.4,204 171.9,202 172.4,200 172.9,197.8 173.4,195.7 173.9,193.5 174.4,191.3 174.9,189.1 175.4,187.1 175.9,185.1 176.4,183.2 176.9,181.5 177.4,180 177.9,178.8 178.4,177.8 178.9,177.1 179.4,176.8 179.9,176.8 180.4,177.3 180.9,178.1 181.4,179.2 181.9,180.8 182.3,182.7 182.8,184.9 183.3,187.5 183.8,190.2 184.3,193.2 184.8,196.3 185.3,199.5 185.8,202.8 186.3,206.1 186.8,209.4 187.3,212.7 187.8,215.8 188.3,218.9 188.8,221.9 189.3,224.7 189.8,227.4 190.3,230 190.8,232.4 191.3,234.7 191.8,236.9 192.3,238.9 192.8,240.9 193.3,242.7 193.8,244.4 194.3,246 194.8,247.5 195.3,248.9 195.8,250.2 196.3,251.5 196.8,252.6 197.3,253.7 197.8,254.8 198.3,255.8 198.8,256.7 199.3,257.6 199.8,258.4 200.3,259.2 200.8,259.9 201.3,260.6 201.8,261.3 202.3,261.9 202.8,262.5 203.3,263.1 203.8,263.7 204.3,264.2 204.8,264.7 205.3,265.1 205.8,265.6 206.3,266 206.8,266.5 207.3,266.9 207.8,267.2 208.3,267.6 208.8,268 209.3,268.3 209.8,268.6 210.3,268.9 210.8,269.3 211.3,269.5 211.8,269.8 212.3,270.1 212.8,270.4 213.3,270.6 213.8,270.9 214.3,271.1 214.8,271.3 215.3,271.5 215.8,271.7 216.3,272 216.8,272.2 217.3,272.3 217.8,272.5 218.3,272.7 218.8,272.9 219.3,273.1 219.7,273.2 220.2,273.4 220.7,273.5 221.2,273.7 221.7,273.8 222.2,274 222.7,274.1 223.2,274.3 223.7,274.4 224.2,274.5 224.7,274.6 225.2,274.8 225.7,274.9 226.2,275 226.7,275.1 227.2,275.2 227.7,275.3 228.2,275.4 228.7,275.5 229.2,275.6 229.7,275.7 230.2,275.8 230.7,275.9 231.2,276 231.7,276.1 232.2,276.2 232.7,276.3 233.2,276.3 233.7,276.4 234.2,276.5 234.7,276.6 235.2,276.6 235.7,276.7 236.2,276.8 236.7,276.9 237.2,276.9 237.7,277 238.2,277.1 238.7,277.1 239.2,277.2 239.7,277.3 240.2,277.3 240.7,277.4 241.2,277.4 241.7,277.5 242.2,277.5 242.7,277.6 243.2,277.6 243.7,277.7 244.2,277.8 244.7,277.8 245.2,277.8 245.7,277.9 246.2,277.9 246.7,278 247.2,278 247.7,278.1 248.2,278.1 248.7,278.2 249.2,278.2 249.7,278.3 250.2,278.3 250.7,278.3 251.2,278.4 251.7,278.4 252.2,278.4 252.7,278.5 253.2,278.5 253.7,278.6 254.2,278.6 254.7,278.6 255.2,278.7 255.7,278.7 256.2,278.7 256.7,278.8 257.1,278.8 257.6,278.8 258.1,278.9 258.6,278.9 259.1,278.9 259.6,278.9 260.1,279 260.6,279 261.1,279 261.6,279.1 262.1,279.1 262.6,279.1 263.1,279.1 263.6,279.2 264.1,279.2 264.6,279.2 265.1,279.2 265.6,279.3 266.1,279.3 266.6,279.3 267.1,279.3 267.6,279.4 268.1,279.4 268.6,279.4 269.1,279.4 269.6,279.4 270.1,279.5 270.6,279.5 271.1,279.5 271.6,279.5 272.1,279.6 272.6,279.6 273.1,279.6 273.6,279.6 274.1,279.6 274.6,279.7 275.1,279.7 275.6,279.7" fill="none" stroke="#000" stroke-width="1.2" stroke-linejoin="round"/>
<polyline points="51.7,315 52.2,315 52.7,315 53.2,314.9 53.7,314.9 54.2,314.9 54.7,314.9 55.2,314.9 55.7,314.8 56.2,314.8 56.7,314.8 57.2,314.8 57.7,314.8 58.2,314.7 58.7,314.7 59.2,314.7 59.7,314.7 60.2,314.6 60.7,314.6 61.2,314.6 61.7,314.6 62.2,314.5 62.7,314.5 63.2,314.5 63.7,314.4 64.2,314.4 64.7,314.4 65.2,314.4 65.7,314.3 66.2,314.3 66.7,314.3 67.2,314.2 67.7,314.2 68.2,314.2 68.7,314.1 69.2,314.1 69.7,314.1 70.2,314 70.6,314 71.1,314 71.6,313.9 72.1,313.9 72.6,313.9 73.1,313.8 73.6,313.8 74.1,313.7 74.6,313.7 75.1,313.7 75.6,313.6 76.1,313.6 76.6,313.5 77.1,313.5 77.6,313.5 78.1,313.4 78.6,313.4 79.1,313.3 79.6,313.3 80.1,313.2 80.6,313.2 81.1,313.1 81.6,313.1 82.1,313 82.6,313 83.1,312.9 83.6,312.9 84.1,312.8 84.6,312.7 85.1,312.7 85.6,312.6 86.1,312.6 86.6,312.5 87.1,312.4 87.6,312.4 88.1,312.3 88.6,312.2 89.1,312.2 89.6,312.1 90.1,312 90.6,312 91.1,311.9 91.6,311.8 92.1,311.7 92.6,311.6 93.1,311.6 93.6,311.5 94.1,311.4 94.6,311.3 95.1,311.2 95.6,311.1 96.1,311 96.6,310.9 97.1,310.8 97.6,310.7 98.1,310.6 98.6,310.5 99.1,310.4 99.6,310.3 100.1,310.2 100.6,310.1 101.1,310 101.6,309.8 102.1,309.7 102.6,309.6 103.1,309.4 103.6,309.3 104.1,309.2 104.6,309 105.1,308.9 105.6,308.7 106.1,308.6 106.6,308.4 107.1,308.2 107.6,308.1 108,307.9 108.5,307.7 109,307.5 109.5,307.3 110,307.1 110.5,306.9 111,306.7 111.5,306.5 112,306.2 112.5,306 113,305.8 113.5,305.5 114,305.3 114.5,305 115,304.7 115.5,304.4 116,304.1 116.5,303.8 117,303.5 117.5,303.2 118,302.8 118.5,302.5 119,302.1 119.5,301.7 120,301.3 120.5,300.9 121,300.4 121.5,300 122,299.5 122.5,299 123,298.5 123.5,297.9 124,297.4 124.5,296.8 125,296.1 125.5,295.5 126,294.8 126.5,294.1 127,293.3 127.5,292.5 128,291.7 128.5,290.8 129,289.9 129.5,289 130,287.9 130.5,286.9 131,285.7 131.5,284.5 132,283.3 132.5,282 133,280.6 133.5,279.1 134,277.6 134.5,276 135,274.3 135.5,272.5 136,270.7 136.5,268.7 137,266.7 137.5,264.6 138,262.5 138.5,260.2 139,257.9 139.5,255.6 140,253.2 140.5,250.8 141,248.4 141.5,246 142,243.6 142.5,241.2 143,239 143.5,236.8 144,234.7 144.5,232.8 145,231 145.4,229.5 145.9,228.1 146.4,226.9 146.9,225.9 147.4,225.2 147.9,224.6 148.4,224.3 148.9,224.2 149.4,224.4 149.9,224.7 150.4,225.1 150.9,225.8 151.4,226.6 151.9,227.5 152.4,228.5 152.9,229.6 153.4,230.8 153.9,232 154.4,233.3 154.9,234.6 155.4,235.8 155.9,237.1 156.4,238.3 156.9,239.5 157.4,240.7 157.9,241.7 158.4,242.8 158.9,243.7 159.4,244.6 159.9,245.4 160.4,246.1 160.9,246.7 161.4,247.2 161.9,247.6 162.4,247.9 162.9,248.1 163.4,248.2 163.9,248.2 164.4,248.1 164.9,247.9 165.4,247.6 165.9,247.2 166.4,246.7 166.9,246.1 167.4,245.4 167.9,244.6 168.4,243.7 168.9,242.8 169.4,241.7 169.9,240.7 170.4,239.5 170.9,238.3 171.4,237.1 171.9,235.8 172.4,234.6 172.9,233.3 173.4,232 173.9,230.8 174.4,229.6 174.9,228.5 175.4,227.5 175.9,226.6 176.4,225.8 176.9,225.2 177.4,224.7 177.9,224.4 178.4,224.2 178.9,224.3 179.4,224.6 179.9,225.2 180.4,225.9 180.9,226.9 181.4,228.1 181.9,229.5 182.3,231.1 182.8,232.8 183.3,234.7 183.8,236.8 184.3,239 184.8,241.2 185.3,243.6 185.8,246 186.3,248.4 186.8,250.8 187.3,253.2 187.8,255.6 188.3,257.9 188.8,260.2 189.3,262.5 189.8,264.6 190.3,266.7 190.8,268.7 191.3,270.7 191.8,272.5 192.3,274.3 192.8,276 193.3,277.6 193.8,279.1 194.3,280.6 194.8,282 195.3,283.3 195.8,284.5 196.3,285.7 196.8,286.9 197.3,287.9 197.8,289 198.3,289.9 198.8,290.8 199.3,291.7 199.8,292.5 200.3,293.3 200.8,294.1 201.3,294.8 201.8,295.5 202.3,296.1 202.8,296.8 203.3,297.4 203.8,297.9 204.3,298.5 204.8,299 205.3,299.5 205.8,300 206.3,300.4 206.8,300.9 207.3,301.3 207.8,301.7 208.3,302.1 208.8,302.5 209.3,302.8 209.8,303.2 210.3,303.5 210.8,303.8 211.3,304.1 211.8,304.4 212.3,304.7 212.8,305 213.3,305.3 213.8,305.5 214.3,305.8 214.8,306 215.3,306.2 215.8,306.5 216.3,306.7 216.8,306.9 217.3,307.1 217.8,307.3 218.3,307.5 218.8,307.7 219.3,307.9 219.7,308.1 220.2,308.2 220.7,308.4 221.2,308.6 221.7,308.7 222.2,308.9 222.7,309 223.2,309.2 223.7,309.3 224.2,309.4 224.7,309.6 225.2,309.7 225.7,309.8 226.2,310 226.7,310.1 227.2,310.2 227.7,310.3 228.2,310.4 228.7,310.5 229.2,310.6 229.7,310.7 230.2,310.8 230.7,310.9 231.2,311 231.7,311.1 232.2,311.2 232.7,311.3 233.2,311.4 233.7,311.5 234.2,311.6 234.7,311.6 235.2,311.7 235.7,311.8 236.2,311.9 236.7,312 237.2,312 237.7,312.1 238.2,312.2 238.7,312.2 239.2,312.3 239.7,312.4 240.2,312.4 240.7,312.5 241.2,312.6 241.7,312.6 242.2,312.7 242.7,312.7 243.2,312.8 243.7,312.9 244.2,312.9 244.7,313 245.2,313 245.7,313.1 246.2,313.1 246.7,313.2 247.2,313.2 247.7,313.3 248.2,313.3 248.7,313.4 249.2,313.4 249.7,313.5 250.2,313.5 250.7,313.5 251.2,313.6 251.7,313.6 252.2,313.7 252.7,313.7 253.2,313.7 253.7,313.8 254.2,313.8 254.7,313.9 255.2,313.9 255.7,313.9 256.2,314 256.7,314 257.1,314 257.6,314.1 258.1,314.1 258.6,314.1 259.1,314.2 259.6,314.2 260.1,314.2 260.6,314.3 261.1,314.3 261.6,314.3 262.1,314.4 262.6,314.4 263.1,314.4 263.6,314.4 264.1,314.5 264.6,314.5 265.1,314.5 265.6,314.6 266.1,314.6 266.6,314.6 267.1,314.6 267.6,314.7 268.1,314.7 268.6,314.7 269.1,314.7 269.6,314.8 270.1,314.8 270.6,314.8 271.1,314.8 271.6,314.8 272.1,314.9 272.6,314.9 273.1,314.9 273.6,314.9 274.1,314.9 274.6,315 275.1,315 275.6,315" fill="none" stroke="#000" stroke-width="1.2" stroke-linejoin="round"/>
<polyline points="51.7,345.6 52.2,345.5 52.7,345.5 53.2,345.5 53.7,345.5 54.2,345.5 54.7,345.5 55.2,345.4 55.7,345.4 56.2,345.4 56.7,345.4 57.2,345.4 57.7,345.4 58.2,345.3 58.7,345.3 59.2,345.3 59.7,345.3 60.2,345.3 60.7,345.2 61.2,345.2 61.7,345.2 62.2,345.2 62.7,345.2 63.2,345.1 63.7,345.1 64.2,345.1 64.7,345.1 65.2,345 65.7,345 66.2,345 66.7,345 67.2,344.9 67.7,344.9 68.2,344.9 68.7,344.9 69.2,344.8 69.7,344.8 70.2,344.8 70.6,344.8 71.1,344.7 71.6,344.7 72.1,344.7 72.6,344.6 73.1,344.6 73.6,344.6 74.1,344.5 74.6,344.5 75.1,344.5 75.6,344.4 76.1,344.4 76.6,344.4 77.1,344.3 77.6,344.3 78.1,344.3 78.6,344.2 79.1,344.2 79.6,344.2 80.1,344.1 80.6,344.1 81.1,344 81.6,344 82.1,343.9 82.6,343.9 83.1,343.9 83.6,343.8 84.1,343.8 84.6,343.7 85.1,343.7 85.6,343.6 86.1,343.6 86.6,343.5 87.1,343.5 87.6,343.4 88.1,343.4 88.6,343.3 89.1,343.2 89.6,343.2 90.1,343.1 90.6,343.1 91.1,343 91.6,342.9 92.1,342.9 92.6,342.8 93.1,342.7 93.6,342.6 94.1,342.6 94.6,342.5 95.1,342.4 95.6,342.3 96.1,342.3 96.6,342.2 97.1,342.1 97.6,342 98.1,341.9 98.6,341.8 99.1,341.7 99.6,341.6 100.1,341.5 100.6,341.4 101.1,341.3 101.6,341.2 102.1,341.1 102.6,341 103.1,340.8 103.6,340.7 104.1,340.6 104.6,340.4 105.1,340.3 105.6,340.2 106.1,340 106.6,339.9 107.1,339.7 107.6,339.6 108,339.4 108.5,339.2 109,339 109.5,338.8 110,338.7 110.5,338.5 111,338.2 111.5,338 112,337.8 112.5,337.6 113,337.3 113.5,337.1 114,336.8 114.5,336.6 115,336.3 115.5,336 116,335.7 116.5,335.4 117,335.1 117.5,334.7 118,334.4 118.5,334 119,333.6 119.5,333.2 120,332.8 120.5,332.4 121,331.9 121.5,331.4 122,330.9 122.5,330.4 123,329.9 123.5,329.3 124,328.8 124.5,328.1 125,327.5 125.5,326.8 126,326.2 126.5,325.4 127,324.7 127.5,323.9 128,323.1 128.5,322.2 129,321.3 129.5,320.4 130,319.5 130.5,318.5 131,317.4 131.5,316.3 132,315.2 132.5,314.1 133,312.9 133.5,311.6 134,310.4 134.5,309 135,307.7 135.5,306.3 136,304.8 136.5,303.4 137,301.9 137.5,300.3 138,298.8 138.5,297.2 139,295.6 139.5,294 140,292.4 140.5,290.7 141,289.1 141.5,287.5 142,285.9 142.5,284.3 143,282.7 143.5,281.2 144,279.7 144.5,278.2 145,276.9 145.4,275.6 145.9,274.3 146.4,273.1 146.9,272 147.4,271 147.9,270.1 148.4,269.3 148.9,268.6 149.4,268 149.9,267.5 150.4,267 150.9,266.7 151.4,266.5 151.9,266.4 152.4,266.3 152.9,266.3 153.4,266.4 153.9,266.6 154.4,266.8 154.9,267.1 155.4,267.4 155.9,267.8 156.4,268.2 156.9,268.6 157.4,269 157.9,269.5 158.4,269.9 158.9,270.3 159.4,270.7 159.9,271.1 160.4,271.4 160.9,271.7 161.4,271.9 161.9,272.1 162.4,272.3 162.9,272.4 163.4,272.5 163.9,272.5 164.4,272.4 164.9,272.3 165.4,272.1 165.9,271.9 166.4,271.7 166.9,271.4 167.4,271.1 167.9,270.7 168.4,270.3 168.9,269.9 169.4,269.5 169.9,269 170.4,268.6 170.9,268.2 171.4,267.8 171.9,267.4 172.4,267.1 172.9,266.8 173.4,266.6 173.9,266.4 174.4,266.3 174.9,266.3 175.4,266.4 175.9,266.5 176.4,266.7 176.9,267.1 177.4,267.5 177.9,268 178.4,268.6 178.9,269.3 179.4,270.1 179.9,271.1 180.4,272.1 180.9,273.1 181.4,274.3 181.9,275.6 182.3,276.9 182.8,278.3 183.3,279.7 183.8,281.2 184.3,282.7 184.8,284.3 185.3,285.9 185.8,287.5 186.3,289.1 186.8,290.7 187.3,292.4 187.8,294 188.3,295.6 188.8,297.2 189.3,298.8 189.8,300.3 190.3,301.9 190.8,303.4 191.3,304.8 191.8,306.3 192.3,307.7 192.8,309 193.3,310.4 193.8,311.6 194.3,312.9 194.8,314.1 195.3,315.2 195.8,316.3 196.3,317.4 196.8,318.5 197.3,319.5 197.8,320.4 198.3,321.3 198.8,322.2 199.3,323.1 199.8,323.9 200.3,324.7 200.8,325.4 201.3,326.2 201.8,326.8 202.3,327.5 202.8,328.1 203.3,328.8 203.8,329.3 204.3,329.9 204.8,330.4 205.3,330.9 205.8,331.4 206.3,331.9 206.8,332.4 207.3,332.8 207.8,333.2 208.3,333.6 208.8,334 209.3,334.4 209.8,334.7 210.3,335.1 210.8,335.4 211.3,335.7 211.8,336 212.3,336.3 212.8,336.6 213.3,336.8 213.8,337.1 214.3,337.3 214.8,337.6 215.3,337.8 215.8,338 216.3,338.2 216.8,338.5 217.3,338.7 217.8,338.8 218.3,339 218.8,339.2 219.3,339.4 219.7,339.6 220.2,339.7 220.7,339.9 221.2,340 221.7,340.2 222.2,340.3 222.7,340.4 223.2,340.6 223.7,340.7 224.2,340.8 224.7,341 225.2,341.1 225.7,341.2 226.2,341.3 226.7,341.4 227.2,341.5 227.7,341.6 228.2,341.7 228.7,341.8 229.2,341.9 229.7,342 230.2,342.1 230.7,342.2 231.2,342.3 231.7,342.3 232.2,342.4 232.7,342.5 233.2,342.6 233.7,342.6 234.2,342.7 234.7,342.8 235.2,342.9 235.7,342.9 236.2,343 236.7,343.1 237.2,343.1 237.7,343.2 238.2,343.2 238.7,343.3 239.2,343.4 239.7,343.4 240.2,343.5 240.7,343.5 241.2,343.6 241.7,343.6 242.2,343.7 242.7,343.7 243.2,343.8 243.7,343.8 244.2,343.9 244.7,343.9 245.2,343.9 245.7,344 246.2,344 246.7,344.1 247.2,344.1 247.7,344.2 248.2,344.2 248.7,344.2 249.2,344.3 249.7,344.3 250.2,344.3 250.7,344.4 251.2,344.4 251.7,344.4 252.2,344.5 252.7,344.5 253.2,344.5 253.7,344.6 254.2,344.6 254.7,344.6 255.2,344.7 255.7,344.7 256.2,344.7 256.7,344.8 257.1,344.8 257.6,344.8 258.1,344.8 258.6,344.9 259.1,344.9 259.6,344.9 260.1,344.9 260.6,345 261.1,345 261.6,345 262.1,345 262.6,345.1 263.1,345.1 263.6,345.1 264.1,345.1 264.6,345.2 265.1,345.2 265.6,345.2 266.1,345.2 266.6,345.2 267.1,345.3 267.6,345.3 268.1,345.3 268.6,345.3 269.1,345.3 269.6,345.4 270.1,345.4 270.6,345.4 271.1,345.4 271.6,345.4 272.1,345.4 272.6,345.5 273.1,345.5 273.6,345.5 274.1,345.5 274.6,345.5 275.1,345.5 275.6,345.6" fill="none" stroke="#000" stroke-width="1.2" stroke-linejoin="round"/>
<polyline points="51.7,376.2 52.2,376.1 52.7,376.1 53.2,376.1 53.7,376.1 54.2,376.1 54.7,376.1 55.2,376 55.7,376 56.2,376 56.7,376 57.2,376 57.7,376 58.2,375.9 58.7,375.9 59.2,375.9 59.7,375.9 60.2,375.9 60.7,375.8 61.2,375.8 61.7,375.8 62.2,375.8 62.7,375.8 63.2,375.7 63.7,375.7 64.2,375.7 64.7,375.7 65.2,375.6 65.7,375.6 66.2,375.6 66.7,375.6 67.2,375.6 67.7,375.5 68.2,375.5 68.7,375.5 69.2,375.5 69.7,375.4 70.2,375.4 70.6,375.4 71.1,375.3 71.6,375.3 72.1,375.3 72.6,375.3 73.1,375.2 73.6,375.2 74.1,375.2 74.6,375.1 75.1,375.1 75.6,375.1 76.1,375 76.6,375 77.1,375 77.6,374.9 78.1,374.9 78.6,374.9 79.1,374.8 79.6,374.8 80.1,374.7 80.6,374.7 81.1,374.7 81.6,374.6 82.1,374.6 82.6,374.5 83.1,374.5 83.6,374.4 84.1,374.4 84.6,374.4 85.1,374.3 85.6,374.3 86.1,374.2 86.6,374.2 87.1,374.1 87.6,374.1 88.1,374 88.6,373.9 89.1,373.9 89.6,373.8 90.1,373.8 90.6,373.7 91.1,373.6 91.6,373.6 92.1,373.5 92.6,373.5 93.1,373.4 93.6,373.3 94.1,373.2 94.6,373.2 95.1,373.1 95.6,373 96.1,372.9 96.6,372.9 97.1,372.8 97.6,372.7 98.1,372.6 98.6,372.5 99.1,372.4 99.6,372.3 100.1,372.2 100.6,372.1 101.1,372 101.6,371.9 102.1,371.8 102.6,371.7 103.1,371.6 103.6,371.5 104.1,371.3 104.6,371.2 105.1,371.1 105.6,371 106.1,370.8 106.6,370.7 107.1,370.5 107.6,370.4 108,370.2 108.5,370.1 109,369.9 109.5,369.7 110,369.5 110.5,369.4 111,369.2 111.5,369 112,368.8 112.5,368.6 113,368.3 113.5,368.1 114,367.9 114.5,367.6 115,367.4 115.5,367.1 116,366.9 116.5,366.6 117,366.3 117.5,366 118,365.7 118.5,365.3 119,365 119.5,364.7 120,364.3 120.5,363.9 121,363.5 121.5,363.1 122,362.7 122.5,362.3 123,361.8 123.5,361.3 124,360.9 124.5,360.3 125,359.8 125.5,359.3 126,358.7 126.5,358.1 127,357.5 127.5,356.9 128,356.2 128.5,355.5 129,354.8 129.5,354.1 130,353.3 130.5,352.6 131,351.7 131.5,350.9 132,350 132.5,349.2 133,348.2 133.5,347.3 134,346.3 134.5,345.3 135,344.3 135.5,343.3 136,342.2 136.5,341.1 137,340 137.5,338.8 138,337.7 138.5,336.5 139,335.3 139.5,334.1 140,332.9 140.5,331.7 141,330.5 141.5,329.3 142,328 142.5,326.8 143,325.6 143.5,324.4 144,323.3 144.5,322.1 145,321 145.4,319.9 145.9,318.8 146.4,317.8 146.9,316.8 147.4,315.9 147.9,315 148.4,314.1 148.9,313.3 149.4,312.5 149.9,311.8 150.4,311.2 150.9,310.6 151.4,310.1 151.9,309.6 152.4,309.2 152.9,308.8 153.4,308.4 153.9,308.2 154.4,307.9 154.9,307.7 155.4,307.6 155.9,307.4 156.4,307.3 156.9,307.3 157.4,307.2 157.9,307.2 158.4,307.2 158.9,307.2 159.4,307.2 159.9,307.2 160.4,307.2 160.9,307.2 161.4,307.2 161.9,307.2 162.4,307.2 162.9,307.2 163.4,307.2 163.9,307.2 164.4,307.2 164.9,307.2 165.4,307.2 165.9,307.2 166.4,307.2 166.9,307.2 167.4,307.2 167.9,307.2 168.4,307.2 168.9,307.2 169.4,307.2 169.9,307.2 170.4,307.3 170.9,307.3 171.4,307.4 171.9,307.6 172.4,307.7 172.9,307.9 173.4,308.2 173.9,308.4 174.4,308.8 174.9,309.2 175.4,309.6 175.9,310.1 176.4,310.6 176.9,311.2 177.4,311.8 177.9,312.5 178.4,313.3 178.9,314.1 179.4,315 179.9,315.9 180.4,316.8 180.9,317.8 181.4,318.8 181.9,319.9 182.3,321 182.8,322.1 183.3,323.3 183.8,324.4 184.3,325.6 184.8,326.8 185.3,328 185.8,329.3 186.3,330.5 186.8,331.7 187.3,332.9 187.8,334.1 188.3,335.3 188.8,336.5 189.3,337.7 189.8,338.8 190.3,340 190.8,341.1 191.3,342.2 191.8,343.3 192.3,344.3 192.8,345.3 193.3,346.3 193.8,347.3 194.3,348.2 194.8,349.2 195.3,350 195.8,350.9 196.3,351.7 196.8,352.6 197.3,353.3 197.8,354.1 198.3,354.8 198.8,355.5 199.3,356.2 199.8,356.9 200.3,357.5 200.8,358.1 201.3,358.7 201.8,359.3 202.3,359.8 202.8,360.3 203.3,360.9 203.8,361.3 204.3,361.8 204.8,362.3 205.3,362.7 205.8,363.1 206.3,363.5 206.8,363.9 207.3,364.3 207.8,364.7 208.3,365 208.8,365.3 209.3,365.7 209.8,366 210.3,366.3 210.8,366.6 211.3,366.9 211.8,367.1 212.3,367.4 212.8,367.6 213.3,367.9 213.8,368.1 214.3,368.3 214.8,368.6 215.3,368.8 215.8,369 216.3,369.2 216.8,369.4 217.3,369.5 217.8,369.7 218.3,369.9 218.8,370.1 219.3,370.2 219.7,370.4 220.2,370.5 220.7,370.7 221.2,370.8 221.7,371 222.2,371.1 222.7,371.2 223.2,371.3 223.7,371.5 224.2,371.6 224.7,371.7 225.2,371.8 225.7,371.9 226.2,372 226.7,372.1 227.2,372.2 227.7,372.3 228.2,372.4 228.7,372.5 229.2,372.6 229.7,372.7 230.2,372.8 230.7,372.9 231.2,372.9 231.7,373 232.2,373.1 232.7,373.2 233.2,373.2 233.7,373.3 234.2,373.4 234.7,373.5 235.2,373.5 235.7,373.6 236.2,373.6 236.7,373.7 237.2,373.8 237.7,373.8 238.2,373.9 238.7,373.9 239.2,374 239.7,374.1 240.2,374.1 240.7,374.2 241.2,374.2 241.7,374.3 242.2,374.3 242.7,374.4 243.2,374.4 243.7,374.4 244.2,374.5 244.7,374.5 245.2,374.6 245.7,374.6 246.2,374.7 246.7,374.7 247.2,374.7 247.7,374.8 248.2,374.8 248.7,374.9 249.2,374.9 249.7,374.9 250.2,375 250.7,375 251.2,375 251.7,375.1 252.2,375.1 252.7,375.1 253.2,375.2 253.7,375.2 254.2,375.2 254.7,375.3 255.2,375.3 255.7,375.3 256.2,375.3 256.7,375.4 257.1,375.4 257.6,375.4 258.1,375.5 258.6,375.5 259.1,375.5 259.6,375.5 260.1,375.6 260.6,375.6 261.1,375.6 261.6,375.6 262.1,375.6 262.6,375.7 263.1,375.7 263.6,375.7 264.1,375.7 264.6,375.8 265.1,375.8 265.6,375.8 266.1,375.8 266.6,375.8 267.1,375.9 267.6,375.9 268.1,375.9 268.6,375.9 269.1,375.9 269.6,376 270.1,376 270.6,376 271.1,376 271.6,376 272.1,376 272.6,376.1 273.1,376.1 273.6,376.1 274.1,376.1 274.6,376.1 275.1,376.1 275.6,376.2" fill="none" stroke="#000" stroke-width="1.2" stroke-linejoin="round"/>
<polyline points="51.7,407.6 52.2,407.6 52.7,407.6 53.2,407.6 53.7,407.6 54.2,407.6 54.7,407.6 55.2,407.6 55.7,407.6 56.2,407.6 56.7,407.6 57.2,407.5 57.7,407.5 58.2,407.5 58.7,407.5 59.2,407.5 59.7,407.5 60.2,407.5 60.7,407.5 61.2,407.5 61.7,407.5 62.2,407.5 62.7,407.5 63.2,407.5 63.7,407.5 64.2,407.4 64.7,407.4 65.2,407.4 65.7,407.4 66.2,407.4 66.7,407.4 67.2,407.4 67.7,407.4 68.2,407.4 68.7,407.4 69.2,407.4 69.7,407.3 70.2,407.3 70.6,407.3 71.1,407.3 71.6,407.3 72.1,407.3 72.6,407.3 73.1,407.3 73.6,407.3 74.1,407.2 74.6,407.2 75.1,407.2 75.6,407.2 76.1,407.2 76.6,407.2 77.1,407.2 77.6,407.2 78.1,407.1 78.6,407.1 79.1,407.1 79.6,407.1 80.1,407.1 80.6,407.1 81.1,407 81.6,407 82.1,407 82.6,407 83.1,407 83.6,407 84.1,406.9 84.6,406.9 85.1,406.9 85.6,406.9 86.1,406.9 86.6,406.8 87.1,406.8 87.6,406.8 88.1,406.8 88.6,406.7 89.1,406.7 89.6,406.7 90.1,406.7 90.6,406.6 91.1,406.6 91.6,406.6 92.1,406.5 92.6,406.5 93.1,406.5 93.6,406.5 94.1,406.4 94.6,406.4 95.1,406.3 95.6,406.3 96.1,406.3 96.6,406.2 97.1,406.2 97.6,406.1 98.1,406.1 98.6,406.1 99.1,406 99.6,406 100.1,405.9 100.6,405.9 101.1,405.8 101.6,405.8 102.1,405.7 102.6,405.6 103.1,405.6 103.6,405.5 104.1,405.5 104.6,405.4 105.1,405.3 105.6,405.3 106.1,405.2 106.6,405.1 107.1,405 107.6,404.9 108,404.9 108.5,404.8 109,404.7 109.5,404.6 110,404.5 110.5,404.4 111,404.3 111.5,404.2 112,404.1 112.5,403.9 113,403.8 113.5,403.7 114,403.6 114.5,403.4 115,403.3 115.5,403.1 116,403 116.5,402.8 117,402.7 117.5,402.5 118,402.3 118.5,402.1 119,402 119.5,401.8 120,401.6 120.5,401.4 121,401.1 121.5,400.9 122,400.7 122.5,400.4 123,400.2 123.5,399.9 124,399.7 124.5,399.4 125,399.1 125.5,398.8 126,398.5 126.5,398.2 127,397.9 127.5,397.6 128,397.2 128.5,396.9 129,396.5 129.5,396.2 130,395.8 130.5,395.4 131,395 131.5,394.6 132,394.2 132.5,393.7 133,393.3 133.5,392.9 134,392.4 134.5,391.9 135,391.5 135.5,391 136,390.5 136.5,390 137,389.5 137.5,389 138,388.4 138.5,387.9 139,387.4 139.5,386.8 140,386.3 140.5,385.7 141,385.2 141.5,384.6 142,384.1 142.5,383.5 143,383 143.5,382.4 144,381.8 144.5,381.3 145,380.7 145.4,380.2 145.9,379.7 146.4,379.1 146.9,378.6 147.4,378.1 147.9,377.5 148.4,377 148.9,376.5 149.4,376.1 149.9,375.6 150.4,375.1 150.9,374.7 151.4,374.2 151.9,373.8 152.4,373.4 152.9,373 153.4,372.6 153.9,372.2 154.4,371.9 154.9,371.5 155.4,371.2 155.9,370.9 156.4,370.6 156.9,370.4 157.4,370.1 157.9,369.9 158.4,369.7 158.9,369.5 159.4,369.3 159.9,369.1 160.4,369 160.9,368.9 161.4,368.8 161.9,368.7 162.4,368.7 162.9,368.6 163.4,368.6 163.9,368.6 164.4,368.6 164.9,368.7 165.4,368.7 165.9,368.8 166.4,368.9 166.9,369 167.4,369.1 167.9,369.3 168.4,369.5 168.9,369.7 169.4,369.9 169.9,370.1 170.4,370.4 170.9,370.6 171.4,370.9 171.9,371.2 172.4,371.5 172.9,371.9 173.4,372.2 173.9,372.6 174.4,373 174.9,373.4 175.4,373.8 175.9,374.2 176.4,374.7 176.9,375.1 177.4,375.6 177.9,376.1 178.4,376.5 178.9,377 179.4,377.5 179.9,378.1 180.4,378.6 180.9,379.1 181.4,379.7 181.9,380.2 182.3,380.7 182.8,381.3 183.3,381.8 183.8,382.4 184.3,383 184.8,383.5 185.3,384.1 185.8,384.6 186.3,385.2 186.8,385.7 187.3,386.3 187.8,386.8 188.3,387.4 188.8,387.9 189.3,388.4 189.8,389 190.3,389.5 190.8,390 191.3,390.5 191.8,391 192.3,391.5 192.8,391.9 193.3,392.4 193.8,392.9 194.3,393.3 194.8,393.7 195.3,394.2 195.8,394.6 196.3,395 196.8,395.4 197.3,395.8 197.8,396.2 198.3,396.5 198.8,396.9 199.3,397.2 199.8,397.6 200.3,397.9 200.8,398.2 201.3,398.5 201.8,398.8 202.3,399.1 202.8,399.4 203.3,399.7 203.8,399.9 204.3,400.2 204.8,400.4 205.3,400.7 205.8,400.9 206.3,401.1 206.8,401.4 207.3,401.6 207.8,401.8 208.3,402 208.8,402.1 209.3,402.3 209.8,402.5 210.3,402.7 210.8,402.8 211.3,403 211.8,403.1 212.3,403.3 212.8,403.4 213.3,403.6 213.8,403.7 214.3,403.8 214.8,403.9 215.3,404.1 215.8,404.2 216.3,404.3 216.8,404.4 217.3,404.5 217.8,404.6 218.3,404.7 218.8,404.8 219.3,404.9 219.7,404.9 220.2,405 220.7,405.1 221.2,405.2 221.7,405.3 222.2,405.3 222.7,405.4 223.2,405.5 223.7,405.5 224.2,405.6 224.7,405.6 225.2,405.7 225.7,405.8 226.2,405.8 226.7,405.9 227.2,405.9 227.7,406 228.2,406 228.7,406.1 229.2,406.1 229.7,406.1 230.2,406.2 230.7,406.2 231.2,406.3 231.7,406.3 232.2,406.3 232.7,406.4 233.2,406.4 233.7,406.5 234.2,406.5 234.7,406.5 235.2,406.5 235.7,406.6 236.2,406.6 236.7,406.6 237.2,406.7 237.7,406.7 238.2,406.7 238.7,406.7 239.2,406.8 239.7,406.8 240.2,406.8 240.7,406.8 241.2,406.9 241.7,406.9 242.2,406.9 242.7,406.9 243.2,406.9 243.7,407 244.2,407 244.7,407 245.2,407 245.7,407 246.2,407 246.7,407.1 247.2,407.1 247.7,407.1 248.2,407.1 248.7,407.1 249.2,407.1 249.7,407.2 250.2,407.2 250.7,407.2 251.2,407.2 251.7,407.2 252.2,407.2 252.7,407.2 253.2,407.2 253.7,407.3 254.2,407.3 254.7,407.3 255.2,407.3 255.7,407.3 256.2,407.3 256.7,407.3 257.1,407.3 257.6,407.3 258.1,407.4 258.6,407.4 259.1,407.4 259.6,407.4 260.1,407.4 260.6,407.4 261.1,407.4 261.6,407.4 262.1,407.4 262.6,407.4 263.1,407.4 263.6,407.5 264.1,407.5 264.6,407.5 265.1,407.5 265.6,407.5 266.1,407.5 266.6,407.5 267.1,407.5 267.6,407.5 268.1,407.5 268.6,407.5 269.1,407.5 269.6,407.5 270.1,407.5 270.6,407.6 271.1,407.6 271.6,407.6 272.1,407.6 272.6,407.6 273.1,407.6 273.6,407.6 274.1,407.6 274.6,407.6 275.1,407.6 275.6,407.6" fill="none" stroke="#000" stroke-width="1.2" stroke-linejoin="round"/>
<polyline points="51.7,439.5 52.2,439.5 52.7,439.4 53.2,439.4 53.7,439.4 54.2,439.4 54.7,439.4 55.2,439.4 55.7,439.4 56.2,439.4 56.7,439.4 57.2,439.4 57.7,439.4 58.2,439.4 58.7,439.4 59.2,439.4 59.7,439.4 60.2,439.4 60.7,439.4 61.2,439.4 61.7,439.4 62.2,439.4 62.7,439.4 63.2,439.4 63.7,439.4 64.2,439.4 64.7,439.4 65.2,439.3 65.7,439.3 66.2,439.3 66.7,439.3 67.2,439.3 67.7,439.3 68.2,439.3 68.7,439.3 69.2,439.3 69.7,439.3 70.2,439.3 70.6,439.3 71.1,439.3 71.6,439.3 72.1,439.3 72.6,439.3 73.1,439.3 73.6,439.3 74.1,439.2 74.6,439.2 75.1,439.2 75.6,439.2 76.1,439.2 76.6,439.2 77.1,439.2 77.6,439.2 78.1,439.2 78.6,439.2 79.1,439.2 79.6,439.2 80.1,439.2 80.6,439.1 81.1,439.1 81.6,439.1 82.1,439.1 82.6,439.1 83.1,439.1 83.6,439.1 84.1,439.1 84.6,439.1 85.1,439.1 85.6,439.1 86.1,439 86.6,439 87.1,439 87.6,439 88.1,439 88.6,439 89.1,439 89.6,439 90.1,438.9 90.6,438.9 91.1,438.9 91.6,438.9 92.1,438.9 92.6,438.9 93.1,438.9 93.6,438.8 94.1,438.8 94.6,438.8 95.1,438.8 95.6,438.8 96.1,438.8 96.6,438.7 97.1,438.7 97.6,438.7 98.1,438.7 98.6,438.7 99.1,438.6 99.6,438.6 100.1,438.6 100.6,438.6 101.1,438.6 101.6,438.5 102.1,438.5 102.6,438.5 103.1,438.5 103.6,438.4 104.1,438.4 104.6,438.4 105.1,438.3 105.6,438.3 106.1,438.3 106.6,438.3 107.1,438.2 107.6,438.2 108,438.2 108.5,438.1 109,438.1 109.5,438 110,438 110.5,438 111,437.9 111.5,437.9 112,437.8 112.5,437.8 113,437.7 113.5,437.7 114,437.6 114.5,437.6 115,437.5 115.5,437.5 116,437.4 116.5,437.4 117,437.3 117.5,437.2 118,437.2 118.5,437.1 119,437 119.5,437 120,436.9 120.5,436.8 121,436.7 121.5,436.7 122,436.6 122.5,436.5 123,436.4 123.5,436.3 124,436.2 124.5,436.1 125,436 125.5,435.9 126,435.8 126.5,435.7 127,435.5 127.5,435.4 128,435.3 128.5,435.2 129,435 129.5,434.9 130,434.7 130.5,434.6 131,434.4 131.5,434.3 132,434.1 132.5,433.9 133,433.8 133.5,433.6 134,433.4 134.5,433.2 135,433 135.5,432.8 136,432.6 136.5,432.4 137,432.2 137.5,432 138,431.7 138.5,431.5 139,431.3 139.5,431 140,430.8 140.5,430.5 141,430.2 141.5,430 142,429.7 142.5,429.4 143,429.1 143.5,428.8 144,428.5 144.5,428.3 145,428 145.4,427.6 145.9,427.3 146.4,427 146.9,426.7 147.4,426.4 147.9,426.1 148.4,425.8 148.9,425.5 149.4,425.2 149.9,424.8 150.4,424.5 150.9,424.2 151.4,423.9 151.9,423.6 152.4,423.3 152.9,423 153.4,422.7 153.9,422.5 154.4,422.2 154.9,421.9 155.4,421.7 155.9,421.4 156.4,421.2 156.9,421 157.4,420.8 157.9,420.6 158.4,420.4 158.9,420.2 159.4,420.1 159.9,419.9 160.4,419.8 160.9,419.7 161.4,419.6 161.9,419.5 162.4,419.5 162.9,419.5 163.4,419.4 163.9,419.4 164.4,419.5 164.9,419.5 165.4,419.5 165.9,419.6 166.4,419.7 166.9,419.8 167.4,419.9 167.9,420.1 168.4,420.2 168.9,420.4 169.4,420.6 169.9,420.8 170.4,421 170.9,421.2 171.4,421.4 171.9,421.7 172.4,421.9 172.9,422.2 173.4,422.5 173.9,422.7 174.4,423 174.9,423.3 175.4,423.6 175.9,423.9 176.4,424.2 176.9,424.5 177.4,424.8 177.9,425.2 178.4,425.5 178.9,425.8 179.4,426.1 179.9,426.4 180.4,426.7 180.9,427 181.4,427.3 181.9,427.6 182.3,428 182.8,428.3 183.3,428.5 183.8,428.8 184.3,429.1 184.8,429.4 185.3,429.7 185.8,430 186.3,430.2 186.8,430.5 187.3,430.8 187.8,431 188.3,431.3 188.8,431.5 189.3,431.7 189.8,432 190.3,432.2 190.8,432.4 191.3,432.6 191.8,432.8 192.3,433 192.8,433.2 193.3,433.4 193.8,433.6 194.3,433.8 194.8,433.9 195.3,434.1 195.8,434.3 196.3,434.4 196.8,434.6 197.3,434.7 197.8,434.9 198.3,435 198.8,435.2 199.3,435.3 199.8,435.4 200.3,435.5 200.8,435.7 201.3,435.8 201.8,435.9 202.3,436 202.8,436.1 203.3,436.2 203.8,436.3 204.3,436.4 204.8,436.5 205.3,436.6 205.8,436.7 206.3,436.7 206.8,436.8 207.3,436.9 207.8,437 208.3,437 208.8,437.1 209.3,437.2 209.8,437.2 210.3,437.3 210.8,437.4 211.3,437.4 211.8,437.5 212.3,437.5 212.8,437.6 213.3,437.6 213.8,437.7 214.3,437.7 214.8,437.8 215.3,437.8 215.8,437.9 216.3,437.9 216.8,438 217.3,438 217.8,438 218.3,438.1 218.8,438.1 219.3,438.2 219.7,438.2 220.2,438.2 220.7,438.3 221.2,438.3 221.7,438.3 222.2,438.3 222.7,438.4 223.2,438.4 223.7,438.4 224.2,438.5 224.7,438.5 225.2,438.5 225.7,438.5 226.2,438.6 226.7,438.6 227.2,438.6 227.7,438.6 228.2,438.6 228.7,438.7 229.2,438.7 229.7,438.7 230.2,438.7 230.7,438.7 231.2,438.8 231.7,438.8 232.2,438.8 232.7,438.8 233.2,438.8 233.7,438.8 234.2,438.9 234.7,438.9 235.2,438.9 235.7,438.9 236.2,438.9 236.7,438.9 237.2,438.9 237.7,439 238.2,439 238.7,439 239.2,439 239.7,439 240.2,439 240.7,439 241.2,439 241.7,439.1 242.2,439.1 242.7,439.1 243.2,439.1 243.7,439.1 244.2,439.1 244.7,439.1 245.2,439.1 245.7,439.1 246.2,439.1 246.7,439.1 247.2,439.2 247.7,439.2 248.2,439.2 248.7,439.2 249.2,439.2 249.7,439.2 250.2,439.2 250.7,439.2 251.2,439.2 251.7,439.2 252.2,439.2 252.7,439.2 253.2,439.2 253.7,439.3 254.2,439.3 254.7,439.3 255.2,439.3 255.7,439.3 256.2,439.3 256.7,439.3 257.1,439.3 257.6,439.3 258.1,439.3 258.6,439.3 259.1,439.3 259.6,439.3 260.1,439.3 260.6,439.3 261.1,439.3 261.6,439.3 262.1,439.3 262.6,439.4 263.1,439.4 263.6,439.4 264.1,439.4 264.6,439.4 265.1,439.4 265.6,439.4 266.1,439.4 266.6,439.4 267.1,439.4 267.6,439.4 268.1,439.4 268.6,439.4 269.1,439.4 269.6,439.4 270.1,439.4 270.6,439.4 271.1,439.4 271.6,439.4 272.1,439.4 272.6,439.4 273.1,439.4 273.6,439.4 274.1,439.4 274.6,439.4 275.1,439.5 275.6,439.5" fill="none" stroke="#000" stroke-width="1.2" stroke-linejoin="round"/>
</g>
<rect x="51.7" y="59.2" width="223.9" height="435.0" stroke="#000" stroke-width="1.25" fill="none"/>
<g font-size="12.6" fill="#000" text-anchor="end">
<text x="50.3" y="476.9">1.0</text>
<text x="50.3" y="421.8">1.2</text>
<text x="50.3" y="366.7">1.4</text>
<text x="50.3" y="311.5">1.6</text>
<text x="50.3" y="256.4">1.8</text>
<text x="50.3" y="201.3">2.0</text>
<text x="50.3" y="146.2">2.2</text>
<text x="50.3" y="91.1">2.4</text>
</g>
<g font-size="12.6" fill="#000" text-anchor="middle">
<text x="51.7" y="504.8">-2</text>
<text x="107.7" y="504.8">-1</text>
<text x="163.7" y="504.8">0</text>
<text x="219.6" y="504.8">1</text>
<text x="275.6" y="504.8">2</text>
</g>
<text x="164.3" y="522.6" font-size="13.8" text-anchor="middle"><tspan font-style="italic">V</tspan> (mV)</text>
<text transform="translate(20.2,281.0) rotate(-90) scale(1,1.10)" font-size="13.6" text-anchor="middle"><tspan font-style="italic">G</tspan><tspan font-size="9" dy="4.6" font-style="italic">N</tspan><tspan dy="-4.6"> (a.u.) shifted</tspan></text>
<text x="70.7" y="83.0" font-size="12.2">(a)</text>
<path d="M196,78.3H224.8" stroke="#000" stroke-width="1.05"/>
<text x="228.7" y="82.7" font-size="12.7">BTK fit</text>
<g font-size="11.8" text-anchor="end">
<text x="268.4" y="196.2">0.3 K</text>
<text x="269.4" y="236.3">0.5 K</text>
<text x="270.1" y="270.9">0.7 K</text>
<text x="268.7" y="307.5">0.9 K</text>
<text x="268.9" y="337.1">1.2 K</text>
<text x="268.8" y="368.9">1.5 K</text>
<text x="268.8" y="399.5">1.8 K</text>
<text x="269.6" y="430.9">2.0 K</text>
<text x="270.4" y="465.0">2.1 K</text>
</g>
<g stroke="#000" stroke-width="1.25" fill="none">
<path d="M409,58.2H339.3V254.9H409"/>
<path d="M339.3,82.8h2.4 M339.3,107.4h4.0 M339.3,132.0h2.4 M339.3,156.6h4.0 M339.3,181.1h2.4 M339.3,205.7h4.0 M339.3,230.3h2.4 M365.4,254.9v-4.0 M365.4,58.2v4.0 M391.0,254.9v-2.4 M391.0,58.2v2.4"/>
</g>
<g font-size="12.3" text-anchor="end">
<text x="336.3" y="62.6">0.136</text>
<text x="336.3" y="111.8">0.128</text>
<text x="336.3" y="161.0">0.120</text>
<text x="336.3" y="210.1">0.112</text>
<text x="336.3" y="259.3">0.104</text>
</g>
<text x="365.6" y="268.8" font-size="12.3" text-anchor="middle">1.6</text>
<text x="349" y="81.0" font-size="12.4">(b)</text>
<text transform="translate(298.2,150) rotate(-90)" font-size="12.3" text-anchor="middle"><tspan font-style="italic">G</tspan> (S)</text>
<polyline points="361.7,94.6 362.6,95.9 363.6,96.2 364.8,96.9 366,96.7 367.3,97.9 368.6,97.9 370,98.9 371.4,99.1 372.8,100 374.2,100.2 375.6,101.2 377,101.3 378.7,102.1 382.4,104 382.5,106.6 386.8,105.8 389.8,110.2 394.9,111 397.9,113.2 402.3,113.9 405,115.6 406.2,116.2 407.4,116.9 408.6,117.4" fill="none" stroke="#000" stroke-width="0.55" marker-start="url(#mb)" marker-mid="url(#mb)" marker-end="url(#mb)"/>
<circle cx="362.2" cy="94.8" r="2.0" fill="#000"/><circle cx="363.4" cy="96.4" r="1.7" fill="#000"/>
<circle cx="405.6" cy="115.8" r="1.8" fill="#000"/><circle cx="407" cy="116.8" r="1.8" fill="#000"/>
<circle cx="382.4" cy="104.0" r="1.3" fill="#000" fill-opacity="0.45" stroke="#000" stroke-width="0.6"/>
<circle cx="382.5" cy="106.6" r="1.3" fill="#000" fill-opacity="0.45" stroke="#000" stroke-width="0.6"/>
<circle cx="386.8" cy="105.8" r="1.3" fill="#000" fill-opacity="0.45" stroke="#000" stroke-width="0.6"/>
<circle cx="389.8" cy="110.2" r="1.3" fill="#000" fill-opacity="0.45" stroke="#000" stroke-width="0.6"/>
<circle cx="394.9" cy="111.0" r="1.3" fill="#000" fill-opacity="0.45" stroke="#000" stroke-width="0.6"/>
<circle cx="397.9" cy="113.2" r="1.3" fill="#000" fill-opacity="0.45" stroke="#000" stroke-width="0.6"/>
<circle cx="402.3" cy="113.9" r="1.3" fill="#000" fill-opacity="0.45" stroke="#000" stroke-width="0.6"/>
<g stroke="#000" stroke-width="1.25" fill="none">
<path d="M409,303.8H339.0V493.4H409"/>
<path d="M339.0,471.8h2.4 M339.0,450.3h4.0 M339.0,428.8h2.4 M339.0,407.2h4.0 M339.0,385.6h2.4 M339.0,364.1h4.0 M339.0,342.6h2.4 M339.0,321.0h4.0 M363.3,493.4v-2.4 M363.3,303.8v2.4 M387.6,493.4v-4.0 M387.6,303.8v4.0"/>
<path d="M339.0,321.0 H372 C386,321.0 396,322.4 409,325.0" stroke-width="1.1"/>
</g>
<circle cx="366.2" cy="321.4" r="2.9" fill="url(#og)"/>
<circle cx="384.3" cy="321.6" r="2.9" fill="url(#og)"/>
<circle cx="402.4" cy="325.0" r="2.9" fill="url(#og)"/>
<g font-size="12.3" text-anchor="end">
<text x="336.3" y="497.8">0.00</text>
<text x="336.3" y="454.7">0.25</text>
<text x="336.3" y="411.6">0.50</text>
<text x="336.3" y="368.5">0.75</text>
<text x="336.3" y="325.4">1.00</text>
</g>
<g font-size="12.3" text-anchor="middle">
<text x="339.4" y="506.4">0.00</text><text x="387.7" y="506.4">0.25</text>
</g>
<text x="349.4" y="340.2" font-size="12.4">(c)</text>
<text transform="translate(302.2,405.5) rotate(-90)" font-size="13" text-anchor="middle" font-family='"Liberation Serif", serif'>Δ/ Δ<tspan font-size="8.5" dy="4">0</tspan></text>
<rect x="370.7" y="372.2" width="60" height="91.1" fill="#fff"/>
<g stroke="#000" stroke-width="0.9" fill="none">
<path d="M370.7,372.2H409M370.7,463.3H409"/>
<path d="M380.8,463.3v-1.6 M380.8,372.2v1.6 M390.7,463.3v-2.6 M390.7,372.2v2.6 M400.6,463.3v-1.6 M400.6,372.2v1.6"/>
</g>
<g stroke="#ff0000" stroke-width="0.9" fill="none">
<path d="M370.7,371.8V463.7"/>
<path d="M370.7,463.3h2.8 M370.7,449.6h1.6 M370.7,436.0h2.8 M370.7,422.4h1.6 M370.7,408.7h2.8 M370.7,395.0h1.6 M370.7,381.4h2.8"/>
</g>
<g class="r" font-size="9.6" text-anchor="end" fill="#ff0000">
<text x="369.2" y="466.7">0.0</text>
<text x="369.2" y="439.4">0.3</text>
<text x="369.2" y="412.1">0.6</text>
<text x="369.2" y="384.8">0.9</text>
</g>
<text transform="translate(351.6,421.3) rotate(-90)" class="r" font-size="9.5" text-anchor="middle" fill="#ff0000" font-family='"Liberation Serif", serif'>Γ/Δ</text>
<text x="381.4" y="472.5" font-size="9.6">0.25</text><text x="403.2" y="472.5" font-size="9.6">0.50</text>
<path d="M389.1,394.5L397.2,394.2L404.4,394.5L412,394.2" stroke="#0000ff" stroke-width="0.9" fill="none"/>
<rect x="388.0" y="393.4" width="2.2" height="2.2" fill="#0000ff"/>
<rect x="396.1" y="393.1" width="2.2" height="2.2" fill="#0000ff"/>
<rect x="403.3" y="393.4" width="2.2" height="2.2" fill="#0000ff"/>
<path d="M381.9,449.6L390.2,450.2L397.9,449.5L405.9,448.6L414,447" stroke="#ff0000" stroke-width="0.9" fill="none"/>
<rect x="380.8" y="448.5" width="2.2" height="2.2" fill="#ff0000"/>
<rect x="389.1" y="449.1" width="2.2" height="2.2" fill="#ff0000"/>
<rect x="396.8" y="448.4" width="2.2" height="2.2" fill="#ff0000"/>
<rect x="404.8" y="447.5" width="2.2" height="2.2" fill="#ff0000"/>
</svg>
</body></html>
